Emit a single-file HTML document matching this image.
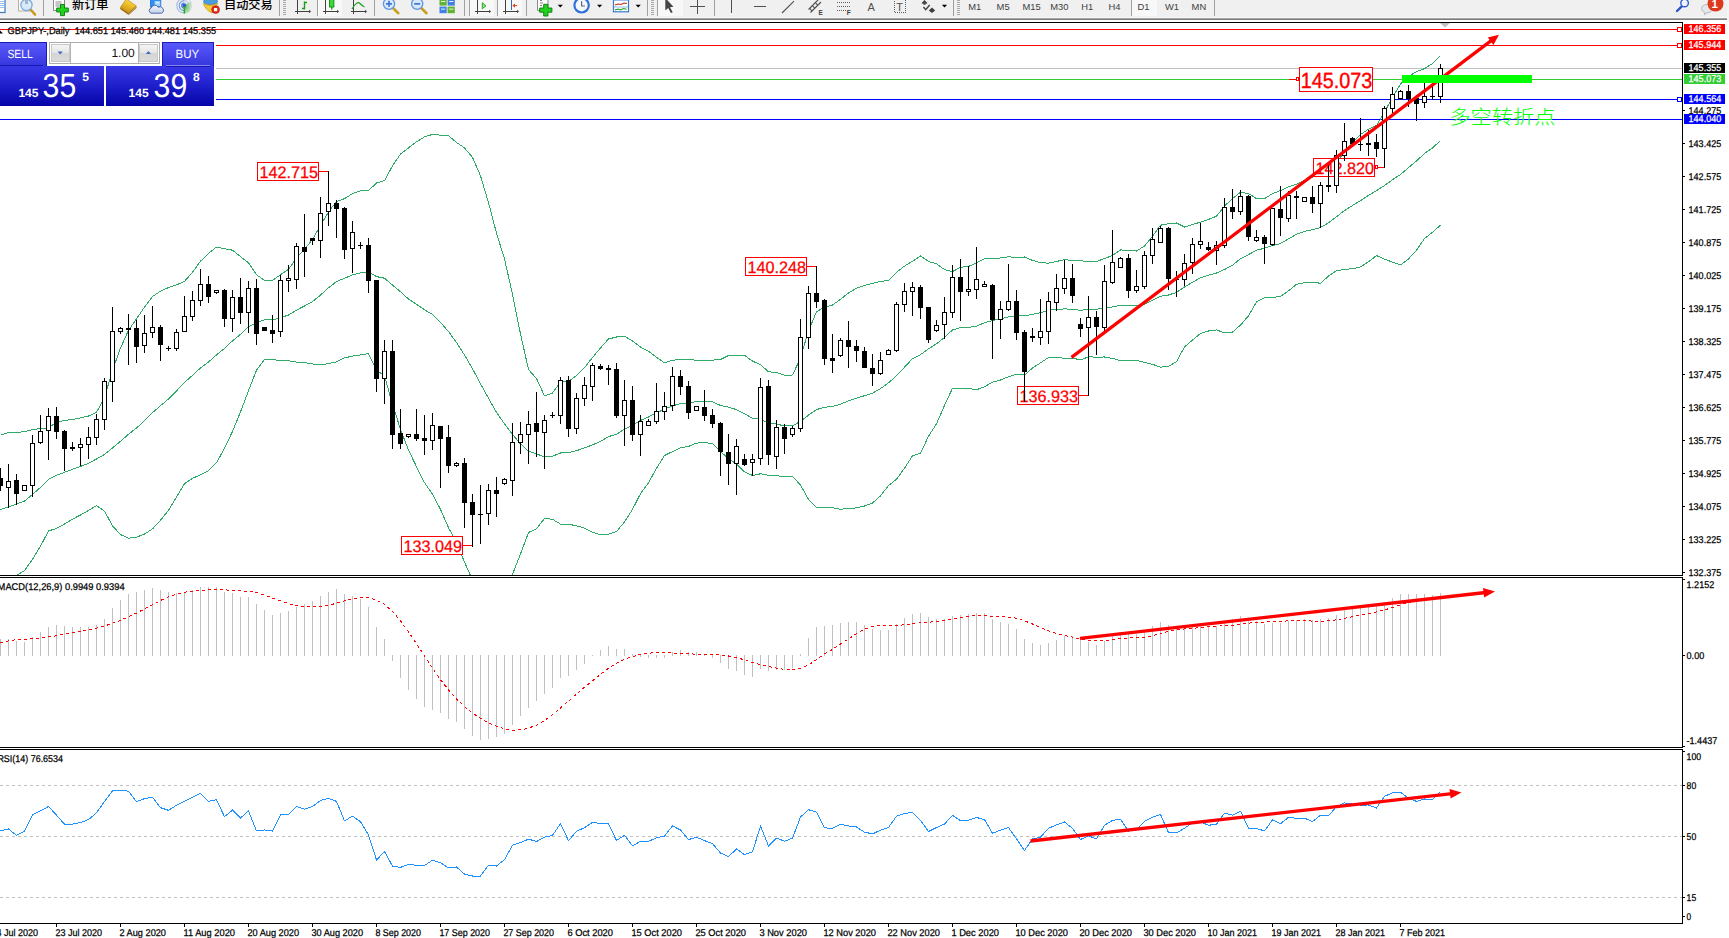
<!DOCTYPE html>
<html lang="zh"><head><meta charset="utf-8"><title>GBPJPY-,Daily</title>
<style>
html,body{margin:0;padding:0;background:#fff;}
body{width:1729px;height:938px;overflow:hidden;position:relative;font-family:"Liberation Sans","Noto Sans CJK SC",sans-serif;}
svg{position:absolute;left:0;top:0;display:block}
text{font-family:"Liberation Sans","Noto Sans CJK SC",sans-serif;}
.ax{font-size:9.3px;fill:#000}
.axw{font-size:9.3px;fill:#fff}
.lbl{font-size:16px;fill:#f00}
</style></head><body>
<svg width="1729" height="938" viewBox="0 0 1729 938">

<defs>
<clipPath id="cm"><rect x="0" y="23" width="1682" height="552"/></clipPath>
<clipPath id="cd"><rect x="0" y="578" width="1682" height="169"/></clipPath>
<clipPath id="cr"><rect x="0" y="750" width="1682" height="173"/></clipPath>
</defs>
<g shape-rendering="crispEdges">
<rect x="0" y="29" width="1682" height="1" fill="#f00" />
<rect x="0" y="45" width="1682" height="1" fill="#f00" />
<rect x="0" y="68" width="1682" height="1" fill="#c0c0c0" />
<rect x="0" y="79" width="1682" height="1" fill="#32cd32" />
<rect x="0" y="99" width="1682" height="1" fill="#00f" />
<rect x="0" y="119" width="1682" height="1" fill="#00f" />
</g>
<g clip-path="url(#cm)">
<polyline points="0.5,435.1 8.5,432.5 16.5,432.5 24.5,431.6 32.5,429.7 40.5,428.4 48.5,427.8 56.5,422.3 64.5,420.5 72.5,419.5 80.5,417.9 88.5,416.0 96.5,412.3 104.5,397.6 112.5,370.1 120.5,348.0 128.5,330.3 136.5,318.9 144.5,307.1 152.5,296.5 160.5,291.1 168.5,287.6 176.5,284.9 184.5,281.3 192.5,272.3 200.5,261.2 208.5,253.4 216.5,247.1 224.5,248.7 232.5,250.2 240.5,256.6 248.5,262.9 256.5,274.7 264.5,280.4 272.5,280.4 280.5,274.8 288.5,269.4 296.5,258.0 304.5,249.3 312.5,239.4 320.5,225.3 328.5,212.0 336.5,201.4 344.5,198.7 352.5,193.6 360.5,190.9 368.5,190.7 376.5,182.9 384.5,180.6 392.5,165.9 400.5,154.0 408.5,147.9 416.5,141.8 424.5,136.9 432.5,134.4 440.5,135.2 448.5,135.6 456.5,142.5 464.5,147.9 472.5,157.4 480.5,175.8 488.5,202.6 496.5,233.2 504.5,258.9 512.5,294.5 520.5,333.9 528.5,369.6 536.5,378.5 544.5,395.9 552.5,393.0 560.5,381.9 568.5,381.3 576.5,375.6 584.5,367.7 592.5,357.5 600.5,348.0 608.5,339.0 616.5,337.0 624.5,336.2 632.5,340.9 640.5,347.1 648.5,351.1 656.5,357.3 664.5,362.9 672.5,360.3 680.5,359.2 688.5,359.5 696.5,360.3 704.5,360.4 712.5,360.1 720.5,359.5 728.5,355.5 736.5,355.3 744.5,355.3 752.5,361.1 760.5,364.6 768.5,371.8 776.5,372.4 784.5,375.1 792.5,375.0 800.5,358.0 808.5,330.7 816.5,311.9 824.5,307.1 832.5,305.1 840.5,299.2 848.5,293.1 856.5,288.2 864.5,285.4 872.5,283.3 880.5,281.4 888.5,280.4 896.5,272.4 904.5,266.1 912.5,261.3 920.5,255.9 928.5,261.5 936.5,263.8 944.5,269.6 952.5,271.6 960.5,267.2 968.5,266.5 976.5,262.8 984.5,258.6 992.5,259.0 1000.5,258.0 1008.5,256.8 1016.5,257.5 1024.5,257.0 1032.5,260.4 1040.5,262.6 1048.5,263.2 1056.5,261.5 1064.5,259.6 1072.5,260.6 1080.5,260.8 1088.5,261.5 1096.5,261.5 1104.5,258.5 1112.5,255.5 1120.5,250.0 1128.5,250.1 1136.5,251.0 1144.5,246.0 1152.5,236.2 1160.5,225.2 1168.5,223.7 1176.5,223.0 1184.5,227.0 1192.5,224.5 1200.5,222.1 1208.5,219.4 1216.5,216.2 1224.5,206.1 1232.5,198.5 1240.5,192.3 1248.5,193.5 1256.5,198.6 1264.5,198.7 1272.5,193.6 1280.5,190.6 1288.5,186.7 1296.5,184.4 1304.5,180.1 1312.5,177.2 1320.5,171.7 1328.5,169.7 1336.5,162.6 1344.5,151.8 1352.5,142.2 1360.5,134.5 1368.5,129.1 1376.5,125.6 1384.5,112.1 1392.5,97.3 1400.5,84.0 1408.5,76.3 1416.5,71.6 1424.5,68.6 1432.5,63.5 1440.5,55.8" fill="none" stroke="#2fa968" stroke-width="1" shape-rendering="crispEdges"/>
<polyline points="0.5,509.6 8.5,506.9 16.5,504.0 24.5,501.1 32.5,494.5 40.5,487.3 48.5,479.4 56.5,475.3 64.5,472.3 72.5,469.3 80.5,466.4 88.5,463.3 96.5,459.0 104.5,454.4 112.5,448.0 120.5,441.3 128.5,434.2 136.5,428.1 144.5,420.6 152.5,412.7 160.5,405.7 168.5,399.0 176.5,390.9 184.5,382.5 192.5,375.3 200.5,368.0 208.5,362.0 216.5,354.9 224.5,348.4 232.5,340.9 240.5,334.3 248.5,326.8 256.5,322.5 264.5,319.9 272.5,320.0 280.5,317.6 288.5,315.1 296.5,310.1 304.5,306.0 312.5,301.6 320.5,295.1 328.5,287.8 336.5,281.6 344.5,278.3 352.5,274.9 360.5,272.9 368.5,272.1 376.5,276.6 384.5,278.2 392.5,285.1 400.5,291.7 408.5,299.0 416.5,304.2 424.5,309.8 432.5,314.4 440.5,322.3 448.5,331.6 456.5,342.5 464.5,355.0 472.5,368.7 480.5,383.8 488.5,398.2 496.5,412.4 504.5,423.9 512.5,434.4 520.5,443.9 528.5,451.1 536.5,453.7 544.5,457.1 552.5,456.2 560.5,453.0 568.5,452.7 576.5,450.7 584.5,447.9 592.5,444.9 600.5,441.4 608.5,436.6 616.5,434.2 624.5,429.1 632.5,425.1 640.5,420.4 648.5,417.0 656.5,412.8 664.5,409.2 672.5,405.9 680.5,403.5 688.5,402.9 696.5,401.7 704.5,401.5 712.5,401.9 720.5,405.4 728.5,407.2 736.5,409.6 744.5,413.6 752.5,418.3 760.5,419.2 768.5,423.5 776.5,424.0 784.5,426.0 792.5,425.7 800.5,421.5 808.5,415.1 816.5,409.6 824.5,407.3 832.5,406.5 840.5,404.2 848.5,400.9 856.5,398.1 864.5,395.7 872.5,393.2 880.5,388.6 888.5,382.9 896.5,375.8 904.5,367.2 912.5,358.6 920.5,354.6 928.5,348.9 936.5,343.8 944.5,337.5 952.5,329.9 960.5,327.6 968.5,327.4 976.5,326.3 984.5,322.6 992.5,320.6 1000.5,319.0 1008.5,316.8 1016.5,315.9 1024.5,316.0 1032.5,314.2 1040.5,312.8 1048.5,310.3 1056.5,309.5 1064.5,308.9 1072.5,309.3 1080.5,310.4 1088.5,309.2 1096.5,309.3 1104.5,307.7 1112.5,307.0 1120.5,305.3 1128.5,305.3 1136.5,305.7 1144.5,304.3 1152.5,300.2 1160.5,296.2 1168.5,295.0 1176.5,292.4 1184.5,287.0 1192.5,282.3 1200.5,277.8 1208.5,275.2 1216.5,273.0 1224.5,269.5 1232.5,265.3 1240.5,258.7 1248.5,254.6 1256.5,250.2 1264.5,248.3 1272.5,245.6 1280.5,243.5 1288.5,238.8 1296.5,234.3 1304.5,231.4 1312.5,229.6 1320.5,227.5 1328.5,222.9 1336.5,216.7 1344.5,210.6 1352.5,205.5 1360.5,200.7 1368.5,195.4 1376.5,190.6 1384.5,185.6 1392.5,179.7 1400.5,174.5 1408.5,167.6 1416.5,160.9 1424.5,153.5 1432.5,147.9 1440.5,140.5" fill="none" stroke="#2fa968" stroke-width="1" shape-rendering="crispEdges"/>
<polyline points="0.5,584.1 8.5,581.3 16.5,575.5 24.5,570.5 32.5,559.3 40.5,546.2 48.5,531.0 56.5,528.4 64.5,524.1 72.5,519.1 80.5,515.0 88.5,510.5 96.5,505.6 104.5,511.1 112.5,525.9 120.5,534.5 128.5,538.2 136.5,537.2 144.5,534.1 152.5,528.9 160.5,520.2 168.5,510.4 176.5,496.9 184.5,483.7 192.5,478.4 200.5,474.8 208.5,470.6 216.5,462.8 224.5,448.2 232.5,431.5 240.5,411.9 248.5,390.7 256.5,370.2 264.5,359.4 272.5,359.6 280.5,360.5 288.5,360.7 296.5,362.1 304.5,362.6 312.5,363.9 320.5,364.9 328.5,363.6 336.5,361.9 344.5,357.9 352.5,356.1 360.5,355.0 368.5,353.6 376.5,370.3 384.5,375.9 392.5,404.3 400.5,429.3 408.5,450.1 416.5,466.7 424.5,482.6 432.5,494.3 440.5,509.4 448.5,527.7 456.5,542.5 464.5,562.2 472.5,580.1 480.5,591.8 488.5,593.7 496.5,591.7 504.5,588.9 512.5,574.3 520.5,553.8 528.5,532.5 536.5,528.9 544.5,518.4 552.5,519.3 560.5,524.1 568.5,524.2 576.5,525.8 584.5,528.1 592.5,532.3 600.5,534.9 608.5,534.3 616.5,531.5 624.5,522.0 632.5,509.3 640.5,493.7 648.5,482.8 656.5,468.3 664.5,455.5 672.5,451.6 680.5,447.8 688.5,446.4 696.5,443.1 704.5,442.5 712.5,443.6 720.5,451.4 728.5,458.9 736.5,464.0 744.5,471.9 752.5,475.5 760.5,473.8 768.5,475.2 776.5,475.7 784.5,476.8 792.5,476.4 800.5,485.0 808.5,499.5 816.5,507.4 824.5,507.4 832.5,507.8 840.5,509.2 848.5,508.6 856.5,507.9 864.5,506.0 872.5,503.0 880.5,495.9 888.5,485.5 896.5,479.3 904.5,468.2 912.5,455.9 920.5,453.3 928.5,436.2 936.5,423.8 944.5,405.4 952.5,388.3 960.5,388.1 968.5,388.4 976.5,389.8 984.5,386.7 992.5,382.1 1000.5,380.0 1008.5,376.7 1016.5,374.3 1024.5,375.1 1032.5,368.0 1040.5,362.9 1048.5,357.5 1056.5,357.6 1064.5,358.2 1072.5,358.1 1080.5,359.9 1088.5,356.9 1096.5,357.1 1104.5,357.0 1112.5,358.4 1120.5,360.6 1128.5,360.6 1136.5,360.4 1144.5,362.5 1152.5,364.3 1160.5,367.2 1168.5,366.3 1176.5,361.7 1184.5,346.9 1192.5,340.1 1200.5,333.5 1208.5,331.0 1216.5,329.9 1224.5,332.9 1232.5,332.1 1240.5,325.1 1248.5,315.8 1256.5,301.8 1264.5,297.9 1272.5,297.5 1280.5,296.5 1288.5,290.8 1296.5,284.3 1304.5,282.7 1312.5,282.1 1320.5,283.3 1328.5,276.1 1336.5,270.8 1344.5,269.3 1352.5,268.8 1360.5,266.9 1368.5,261.8 1376.5,255.6 1384.5,259.1 1392.5,262.2 1400.5,264.9 1408.5,258.9 1416.5,250.2 1424.5,238.5 1432.5,232.3 1440.5,225.1" fill="none" stroke="#2fa968" stroke-width="1" shape-rendering="crispEdges"/>
</g>
<g shape-rendering="crispEdges">
</g>
<rect x="257.5" y="162.5" width="61" height="18" fill="#fff" stroke="#f00" stroke-width="1" shape-rendering="crispEdges"/>
<text x="259.45" y="178" font-size="16.6" fill="#f00" stroke="#f00" stroke-width="0.25" text-rendering="geometricPrecision" textLength="58.7" lengthAdjust="spacingAndGlyphs">142.715</text>
<rect x="745.5" y="257.5" width="61" height="18" fill="#fff" stroke="#f00" stroke-width="1" shape-rendering="crispEdges"/>
<text x="747.45" y="273" font-size="16.6" fill="#f00" stroke="#f00" stroke-width="0.25" text-rendering="geometricPrecision" textLength="58.7" lengthAdjust="spacingAndGlyphs">140.248</text>
<rect x="401.5" y="536.5" width="61" height="18" fill="#fff" stroke="#f00" stroke-width="1" shape-rendering="crispEdges"/>
<text x="403.45" y="552" font-size="16.6" fill="#f00" stroke="#f00" stroke-width="0.25" text-rendering="geometricPrecision" textLength="58.7" lengthAdjust="spacingAndGlyphs">133.049</text>
<rect x="1017.5" y="386.5" width="61" height="18" fill="#fff" stroke="#f00" stroke-width="1" shape-rendering="crispEdges"/>
<text x="1019.45" y="402" font-size="16.6" fill="#f00" stroke="#f00" stroke-width="0.25" text-rendering="geometricPrecision" textLength="58.7" lengthAdjust="spacingAndGlyphs">136.933</text>
<rect x="1313.5" y="158.5" width="61" height="18" fill="#fff" stroke="#f00" stroke-width="1" shape-rendering="crispEdges"/>
<text x="1315.45" y="174" font-size="16.6" fill="#f00" stroke="#f00" stroke-width="0.25" text-rendering="geometricPrecision" textLength="58.7" lengthAdjust="spacingAndGlyphs">142.820</text>
<rect x="1299.5" y="67.5" width="73" height="24" fill="#fff" stroke="#f00" stroke-width="1" shape-rendering="crispEdges"/>
<text x="1300.7" y="88" font-size="22" fill="#f00" stroke="#f00" stroke-width="0.4" text-rendering="geometricPrecision" textLength="71.6" lengthAdjust="spacingAndGlyphs">145.073</text>
<g shape-rendering="crispEdges">
<rect x="319" y="171" width="9" height="1" fill="#f00"/>
<rect x="328" y="171" width="1" height="20" fill="#000"/>
<rect x="807" y="266" width="9" height="1" fill="#f00"/>
<rect x="816" y="266" width="1" height="28" fill="#000"/>
<rect x="463" y="545" width="9" height="1" fill="#f00"/>
<rect x="1079" y="395" width="9" height="1" fill="#f00"/>
<rect x="1375" y="167" width="9" height="1" fill="#f00"/>
<rect x="1289" y="79" width="10" height="1" fill="#f00"/>
<rect x="1296.5" y="77.5" width="2" height="3" fill="#fff" stroke="#f00"/>
<rect x="1375.5" y="165.5" width="2" height="3" fill="#fff" stroke="#f00"/>
</g>
<g clip-path="url(#cm)"><g shape-rendering="crispEdges">
<rect x="0" y="468" width="1" height="23" fill="#000"/>
<rect x="-2" y="478" width="5" height="8" fill="#000"/>
<rect x="8" y="464" width="1" height="44" fill="#000"/>
<rect x="6" y="481" width="5" height="7" fill="#000"/>
<rect x="7" y="482" width="3" height="5" fill="#fff"/>
<rect x="16" y="474" width="1" height="31" fill="#000"/>
<rect x="14" y="480" width="5" height="14" fill="#000"/>
<rect x="24" y="485" width="1" height="6" fill="#000"/>
<rect x="22" y="485" width="5" height="6" fill="#000"/>
<rect x="23" y="486" width="3" height="4" fill="#fff"/>
<rect x="32" y="435" width="1" height="62" fill="#000"/>
<rect x="30" y="443" width="5" height="43" fill="#000"/>
<rect x="31" y="444" width="3" height="41" fill="#fff"/>
<rect x="40" y="415" width="1" height="29" fill="#000"/>
<rect x="38" y="431" width="5" height="12" fill="#000"/>
<rect x="39" y="432" width="3" height="10" fill="#fff"/>
<rect x="48" y="408" width="1" height="52" fill="#000"/>
<rect x="46" y="416" width="5" height="15" fill="#000"/>
<rect x="47" y="417" width="3" height="13" fill="#fff"/>
<rect x="56" y="407" width="1" height="32" fill="#000"/>
<rect x="54" y="416" width="5" height="16" fill="#000"/>
<rect x="64" y="430" width="1" height="41" fill="#000"/>
<rect x="62" y="431" width="5" height="18" fill="#000"/>
<rect x="72" y="442" width="1" height="9" fill="#000"/>
<rect x="70" y="447" width="5" height="2" fill="#000"/>
<rect x="80" y="438" width="1" height="28" fill="#000"/>
<rect x="78" y="444" width="5" height="4" fill="#000"/>
<rect x="79" y="445" width="3" height="2" fill="#fff"/>
<rect x="88" y="427" width="1" height="32" fill="#000"/>
<rect x="86" y="437" width="5" height="8" fill="#000"/>
<rect x="87" y="438" width="3" height="6" fill="#fff"/>
<rect x="96" y="414" width="1" height="31" fill="#000"/>
<rect x="94" y="419" width="5" height="19" fill="#000"/>
<rect x="95" y="420" width="3" height="17" fill="#fff"/>
<rect x="104" y="378" width="1" height="52" fill="#000"/>
<rect x="102" y="381" width="5" height="39" fill="#000"/>
<rect x="103" y="382" width="3" height="37" fill="#fff"/>
<rect x="112" y="307" width="1" height="95" fill="#000"/>
<rect x="110" y="331" width="5" height="51" fill="#000"/>
<rect x="111" y="332" width="3" height="49" fill="#fff"/>
<rect x="120" y="327" width="1" height="7" fill="#000"/>
<rect x="118" y="328" width="5" height="4" fill="#000"/>
<rect x="119" y="329" width="3" height="2" fill="#fff"/>
<rect x="128" y="314" width="1" height="51" fill="#000"/>
<rect x="126" y="328" width="5" height="2" fill="#000"/>
<rect x="136" y="320" width="1" height="43" fill="#000"/>
<rect x="134" y="328" width="5" height="19" fill="#000"/>
<rect x="144" y="315" width="1" height="38" fill="#000"/>
<rect x="142" y="333" width="5" height="13" fill="#000"/>
<rect x="143" y="334" width="3" height="11" fill="#fff"/>
<rect x="152" y="306" width="1" height="32" fill="#000"/>
<rect x="150" y="327" width="5" height="6" fill="#000"/>
<rect x="151" y="328" width="3" height="4" fill="#fff"/>
<rect x="160" y="325" width="1" height="36" fill="#000"/>
<rect x="158" y="327" width="5" height="18" fill="#000"/>
<rect x="168" y="346" width="1" height="5" fill="#000"/>
<rect x="166" y="348" width="5" height="1" fill="#000"/>
<rect x="176" y="329" width="1" height="22" fill="#000"/>
<rect x="174" y="332" width="5" height="17" fill="#000"/>
<rect x="175" y="333" width="3" height="15" fill="#fff"/>
<rect x="184" y="296" width="1" height="36" fill="#000"/>
<rect x="182" y="316" width="5" height="16" fill="#000"/>
<rect x="183" y="317" width="3" height="14" fill="#fff"/>
<rect x="192" y="291" width="1" height="30" fill="#000"/>
<rect x="190" y="300" width="5" height="17" fill="#000"/>
<rect x="191" y="301" width="3" height="15" fill="#fff"/>
<rect x="200" y="269" width="1" height="37" fill="#000"/>
<rect x="198" y="284" width="5" height="17" fill="#000"/>
<rect x="199" y="285" width="3" height="15" fill="#fff"/>
<rect x="208" y="276" width="1" height="27" fill="#000"/>
<rect x="206" y="284" width="5" height="13" fill="#000"/>
<rect x="216" y="290" width="1" height="4" fill="#000"/>
<rect x="214" y="290" width="5" height="3" fill="#000"/>
<rect x="215" y="291" width="3" height="1" fill="#fff"/>
<rect x="224" y="289" width="1" height="38" fill="#000"/>
<rect x="222" y="290" width="5" height="29" fill="#000"/>
<rect x="232" y="290" width="1" height="42" fill="#000"/>
<rect x="230" y="297" width="5" height="22" fill="#000"/>
<rect x="231" y="298" width="3" height="20" fill="#fff"/>
<rect x="240" y="278" width="1" height="46" fill="#000"/>
<rect x="238" y="297" width="5" height="16" fill="#000"/>
<rect x="248" y="281" width="1" height="52" fill="#000"/>
<rect x="246" y="288" width="5" height="25" fill="#000"/>
<rect x="247" y="289" width="3" height="23" fill="#fff"/>
<rect x="256" y="279" width="1" height="66" fill="#000"/>
<rect x="254" y="288" width="5" height="46" fill="#000"/>
<rect x="264" y="327" width="1" height="4" fill="#000"/>
<rect x="262" y="327" width="5" height="4" fill="#000"/>
<rect x="272" y="315" width="1" height="28" fill="#000"/>
<rect x="270" y="330" width="5" height="4" fill="#000"/>
<rect x="280" y="275" width="1" height="62" fill="#000"/>
<rect x="278" y="280" width="5" height="52" fill="#000"/>
<rect x="279" y="281" width="3" height="50" fill="#fff"/>
<rect x="288" y="265" width="1" height="27" fill="#000"/>
<rect x="286" y="278" width="5" height="3" fill="#000"/>
<rect x="287" y="279" width="3" height="1" fill="#fff"/>
<rect x="296" y="243" width="1" height="46" fill="#000"/>
<rect x="294" y="246" width="5" height="34" fill="#000"/>
<rect x="295" y="247" width="3" height="32" fill="#fff"/>
<rect x="304" y="214" width="1" height="63" fill="#000"/>
<rect x="302" y="247" width="5" height="5" fill="#000"/>
<rect x="312" y="238" width="1" height="7" fill="#000"/>
<rect x="310" y="238" width="5" height="3" fill="#000"/>
<rect x="320" y="197" width="1" height="61" fill="#000"/>
<rect x="318" y="213" width="5" height="28" fill="#000"/>
<rect x="319" y="214" width="3" height="26" fill="#fff"/>
<rect x="328" y="171" width="1" height="55" fill="#000"/>
<rect x="326" y="203" width="5" height="9" fill="#000"/>
<rect x="327" y="204" width="3" height="7" fill="#fff"/>
<rect x="336" y="200" width="1" height="38" fill="#000"/>
<rect x="334" y="203" width="5" height="6" fill="#000"/>
<rect x="344" y="207" width="1" height="52" fill="#000"/>
<rect x="342" y="208" width="5" height="42" fill="#000"/>
<rect x="352" y="221" width="1" height="52" fill="#000"/>
<rect x="350" y="232" width="5" height="17" fill="#000"/>
<rect x="351" y="233" width="3" height="15" fill="#fff"/>
<rect x="360" y="242" width="1" height="7" fill="#000"/>
<rect x="358" y="245" width="5" height="1" fill="#000"/>
<rect x="368" y="238" width="1" height="55" fill="#000"/>
<rect x="366" y="245" width="5" height="36" fill="#000"/>
<rect x="376" y="280" width="1" height="112" fill="#000"/>
<rect x="374" y="280" width="5" height="99" fill="#000"/>
<rect x="384" y="340" width="1" height="64" fill="#000"/>
<rect x="382" y="351" width="5" height="28" fill="#000"/>
<rect x="383" y="352" width="3" height="26" fill="#fff"/>
<rect x="392" y="340" width="1" height="109" fill="#000"/>
<rect x="390" y="351" width="5" height="84" fill="#000"/>
<rect x="400" y="409" width="1" height="40" fill="#000"/>
<rect x="398" y="433" width="5" height="11" fill="#000"/>
<rect x="408" y="434" width="1" height="4" fill="#000"/>
<rect x="406" y="434" width="5" height="3" fill="#000"/>
<rect x="407" y="435" width="3" height="1" fill="#fff"/>
<rect x="416" y="409" width="1" height="32" fill="#000"/>
<rect x="414" y="434" width="5" height="5" fill="#000"/>
<rect x="424" y="415" width="1" height="40" fill="#000"/>
<rect x="422" y="438" width="5" height="3" fill="#000"/>
<rect x="432" y="413" width="1" height="37" fill="#000"/>
<rect x="430" y="425" width="5" height="16" fill="#000"/>
<rect x="431" y="426" width="3" height="14" fill="#fff"/>
<rect x="440" y="426" width="1" height="62" fill="#000"/>
<rect x="438" y="426" width="5" height="13" fill="#000"/>
<rect x="448" y="425" width="1" height="48" fill="#000"/>
<rect x="446" y="437" width="5" height="29" fill="#000"/>
<rect x="456" y="462" width="1" height="5" fill="#000"/>
<rect x="454" y="463" width="5" height="3" fill="#000"/>
<rect x="455" y="464" width="3" height="1" fill="#fff"/>
<rect x="464" y="458" width="1" height="70" fill="#000"/>
<rect x="462" y="463" width="5" height="40" fill="#000"/>
<rect x="472" y="494" width="1" height="53" fill="#000"/>
<rect x="470" y="502" width="5" height="13" fill="#000"/>
<rect x="480" y="485" width="1" height="59" fill="#000"/>
<rect x="478" y="514" width="5" height="1" fill="#000"/>
<rect x="488" y="484" width="1" height="41" fill="#000"/>
<rect x="486" y="490" width="5" height="24" fill="#000"/>
<rect x="487" y="491" width="3" height="22" fill="#fff"/>
<rect x="496" y="477" width="1" height="40" fill="#000"/>
<rect x="494" y="490" width="5" height="4" fill="#000"/>
<rect x="504" y="478" width="1" height="7" fill="#000"/>
<rect x="502" y="479" width="5" height="5" fill="#000"/>
<rect x="503" y="480" width="3" height="3" fill="#fff"/>
<rect x="512" y="423" width="1" height="73" fill="#000"/>
<rect x="510" y="442" width="5" height="39" fill="#000"/>
<rect x="511" y="443" width="3" height="37" fill="#fff"/>
<rect x="520" y="422" width="1" height="32" fill="#000"/>
<rect x="518" y="434" width="5" height="9" fill="#000"/>
<rect x="519" y="435" width="3" height="7" fill="#fff"/>
<rect x="528" y="411" width="1" height="53" fill="#000"/>
<rect x="526" y="424" width="5" height="11" fill="#000"/>
<rect x="527" y="425" width="3" height="9" fill="#fff"/>
<rect x="536" y="392" width="1" height="65" fill="#000"/>
<rect x="534" y="423" width="5" height="9" fill="#000"/>
<rect x="544" y="415" width="1" height="54" fill="#000"/>
<rect x="542" y="420" width="5" height="13" fill="#000"/>
<rect x="543" y="421" width="3" height="11" fill="#fff"/>
<rect x="552" y="412" width="1" height="6" fill="#000"/>
<rect x="550" y="415" width="5" height="1" fill="#000"/>
<rect x="560" y="377" width="1" height="47" fill="#000"/>
<rect x="558" y="380" width="5" height="36" fill="#000"/>
<rect x="559" y="381" width="3" height="34" fill="#fff"/>
<rect x="568" y="376" width="1" height="61" fill="#000"/>
<rect x="566" y="380" width="5" height="49" fill="#000"/>
<rect x="576" y="393" width="1" height="41" fill="#000"/>
<rect x="574" y="398" width="5" height="31" fill="#000"/>
<rect x="575" y="399" width="3" height="29" fill="#fff"/>
<rect x="584" y="377" width="1" height="29" fill="#000"/>
<rect x="582" y="385" width="5" height="14" fill="#000"/>
<rect x="583" y="386" width="3" height="12" fill="#fff"/>
<rect x="592" y="363" width="1" height="38" fill="#000"/>
<rect x="590" y="365" width="5" height="22" fill="#000"/>
<rect x="591" y="366" width="3" height="20" fill="#fff"/>
<rect x="600" y="364" width="1" height="6" fill="#000"/>
<rect x="598" y="366" width="5" height="3" fill="#000"/>
<rect x="608" y="365" width="1" height="20" fill="#000"/>
<rect x="606" y="368" width="5" height="2" fill="#000"/>
<rect x="616" y="363" width="1" height="55" fill="#000"/>
<rect x="614" y="369" width="5" height="47" fill="#000"/>
<rect x="624" y="380" width="1" height="66" fill="#000"/>
<rect x="622" y="400" width="5" height="16" fill="#000"/>
<rect x="623" y="401" width="3" height="14" fill="#fff"/>
<rect x="632" y="386" width="1" height="55" fill="#000"/>
<rect x="630" y="400" width="5" height="35" fill="#000"/>
<rect x="640" y="415" width="1" height="41" fill="#000"/>
<rect x="638" y="421" width="5" height="14" fill="#000"/>
<rect x="639" y="422" width="3" height="12" fill="#fff"/>
<rect x="648" y="419" width="1" height="7" fill="#000"/>
<rect x="646" y="421" width="5" height="5" fill="#000"/>
<rect x="647" y="422" width="3" height="3" fill="#fff"/>
<rect x="656" y="383" width="1" height="41" fill="#000"/>
<rect x="654" y="411" width="5" height="11" fill="#000"/>
<rect x="655" y="412" width="3" height="9" fill="#fff"/>
<rect x="664" y="392" width="1" height="28" fill="#000"/>
<rect x="662" y="406" width="5" height="6" fill="#000"/>
<rect x="663" y="407" width="3" height="4" fill="#fff"/>
<rect x="672" y="367" width="1" height="44" fill="#000"/>
<rect x="670" y="376" width="5" height="30" fill="#000"/>
<rect x="671" y="377" width="3" height="28" fill="#fff"/>
<rect x="680" y="370" width="1" height="25" fill="#000"/>
<rect x="678" y="376" width="5" height="11" fill="#000"/>
<rect x="688" y="381" width="1" height="38" fill="#000"/>
<rect x="686" y="386" width="5" height="27" fill="#000"/>
<rect x="696" y="406" width="1" height="5" fill="#000"/>
<rect x="694" y="406" width="5" height="5" fill="#000"/>
<rect x="695" y="407" width="3" height="3" fill="#fff"/>
<rect x="704" y="390" width="1" height="31" fill="#000"/>
<rect x="702" y="407" width="5" height="9" fill="#000"/>
<rect x="712" y="409" width="1" height="19" fill="#000"/>
<rect x="710" y="415" width="5" height="9" fill="#000"/>
<rect x="720" y="422" width="1" height="54" fill="#000"/>
<rect x="718" y="423" width="5" height="29" fill="#000"/>
<rect x="728" y="434" width="1" height="51" fill="#000"/>
<rect x="726" y="452" width="5" height="12" fill="#000"/>
<rect x="736" y="439" width="1" height="56" fill="#000"/>
<rect x="734" y="446" width="5" height="18" fill="#000"/>
<rect x="735" y="447" width="3" height="16" fill="#fff"/>
<rect x="744" y="454" width="1" height="12" fill="#000"/>
<rect x="742" y="459" width="5" height="6" fill="#000"/>
<rect x="752" y="454" width="1" height="22" fill="#000"/>
<rect x="750" y="459" width="5" height="4" fill="#000"/>
<rect x="751" y="460" width="3" height="2" fill="#fff"/>
<rect x="760" y="378" width="1" height="87" fill="#000"/>
<rect x="758" y="387" width="5" height="72" fill="#000"/>
<rect x="759" y="388" width="3" height="70" fill="#fff"/>
<rect x="768" y="380" width="1" height="85" fill="#000"/>
<rect x="766" y="386" width="5" height="69" fill="#000"/>
<rect x="776" y="420" width="1" height="49" fill="#000"/>
<rect x="774" y="427" width="5" height="30" fill="#000"/>
<rect x="775" y="428" width="3" height="28" fill="#fff"/>
<rect x="784" y="424" width="1" height="30" fill="#000"/>
<rect x="782" y="427" width="5" height="12" fill="#000"/>
<rect x="792" y="426" width="1" height="11" fill="#000"/>
<rect x="790" y="428" width="5" height="7" fill="#000"/>
<rect x="791" y="429" width="3" height="5" fill="#fff"/>
<rect x="800" y="319" width="1" height="113" fill="#000"/>
<rect x="798" y="337" width="5" height="92" fill="#000"/>
<rect x="799" y="338" width="3" height="90" fill="#fff"/>
<rect x="808" y="286" width="1" height="63" fill="#000"/>
<rect x="806" y="293" width="5" height="45" fill="#000"/>
<rect x="807" y="294" width="3" height="43" fill="#fff"/>
<rect x="816" y="266" width="1" height="42" fill="#000"/>
<rect x="814" y="293" width="5" height="9" fill="#000"/>
<rect x="824" y="299" width="1" height="66" fill="#000"/>
<rect x="822" y="300" width="5" height="59" fill="#000"/>
<rect x="832" y="334" width="1" height="39" fill="#000"/>
<rect x="830" y="358" width="5" height="3" fill="#000"/>
<rect x="840" y="338" width="1" height="19" fill="#000"/>
<rect x="838" y="340" width="5" height="16" fill="#000"/>
<rect x="839" y="341" width="3" height="14" fill="#fff"/>
<rect x="848" y="321" width="1" height="47" fill="#000"/>
<rect x="846" y="340" width="5" height="7" fill="#000"/>
<rect x="856" y="340" width="1" height="22" fill="#000"/>
<rect x="854" y="346" width="5" height="5" fill="#000"/>
<rect x="864" y="347" width="1" height="21" fill="#000"/>
<rect x="862" y="351" width="5" height="17" fill="#000"/>
<rect x="872" y="354" width="1" height="32" fill="#000"/>
<rect x="870" y="368" width="5" height="6" fill="#000"/>
<rect x="880" y="352" width="1" height="23" fill="#000"/>
<rect x="878" y="360" width="5" height="14" fill="#000"/>
<rect x="879" y="361" width="3" height="12" fill="#fff"/>
<rect x="888" y="349" width="1" height="6" fill="#000"/>
<rect x="886" y="350" width="5" height="5" fill="#000"/>
<rect x="887" y="351" width="3" height="3" fill="#fff"/>
<rect x="896" y="302" width="1" height="50" fill="#000"/>
<rect x="894" y="304" width="5" height="47" fill="#000"/>
<rect x="895" y="305" width="3" height="45" fill="#fff"/>
<rect x="904" y="283" width="1" height="29" fill="#000"/>
<rect x="902" y="291" width="5" height="14" fill="#000"/>
<rect x="903" y="292" width="3" height="12" fill="#fff"/>
<rect x="912" y="282" width="1" height="34" fill="#000"/>
<rect x="910" y="287" width="5" height="5" fill="#000"/>
<rect x="911" y="288" width="3" height="3" fill="#fff"/>
<rect x="920" y="285" width="1" height="34" fill="#000"/>
<rect x="918" y="287" width="5" height="21" fill="#000"/>
<rect x="928" y="307" width="1" height="36" fill="#000"/>
<rect x="926" y="307" width="5" height="33" fill="#000"/>
<rect x="936" y="320" width="1" height="12" fill="#000"/>
<rect x="934" y="325" width="5" height="6" fill="#000"/>
<rect x="935" y="326" width="3" height="4" fill="#fff"/>
<rect x="944" y="297" width="1" height="42" fill="#000"/>
<rect x="942" y="312" width="5" height="13" fill="#000"/>
<rect x="943" y="313" width="3" height="11" fill="#fff"/>
<rect x="952" y="265" width="1" height="53" fill="#000"/>
<rect x="950" y="277" width="5" height="36" fill="#000"/>
<rect x="951" y="278" width="3" height="34" fill="#fff"/>
<rect x="960" y="259" width="1" height="62" fill="#000"/>
<rect x="958" y="277" width="5" height="15" fill="#000"/>
<rect x="968" y="266" width="1" height="30" fill="#000"/>
<rect x="966" y="289" width="5" height="3" fill="#000"/>
<rect x="967" y="290" width="3" height="1" fill="#fff"/>
<rect x="976" y="247" width="1" height="52" fill="#000"/>
<rect x="974" y="279" width="5" height="11" fill="#000"/>
<rect x="975" y="280" width="3" height="9" fill="#fff"/>
<rect x="984" y="281" width="1" height="6" fill="#000"/>
<rect x="982" y="284" width="5" height="3" fill="#000"/>
<rect x="983" y="285" width="3" height="1" fill="#fff"/>
<rect x="992" y="284" width="1" height="75" fill="#000"/>
<rect x="990" y="285" width="5" height="35" fill="#000"/>
<rect x="1000" y="301" width="1" height="38" fill="#000"/>
<rect x="998" y="309" width="5" height="11" fill="#000"/>
<rect x="999" y="310" width="3" height="9" fill="#fff"/>
<rect x="1008" y="264" width="1" height="47" fill="#000"/>
<rect x="1006" y="301" width="5" height="9" fill="#000"/>
<rect x="1007" y="302" width="3" height="7" fill="#fff"/>
<rect x="1016" y="290" width="1" height="50" fill="#000"/>
<rect x="1014" y="301" width="5" height="32" fill="#000"/>
<rect x="1024" y="330" width="1" height="72" fill="#000"/>
<rect x="1022" y="332" width="5" height="40" fill="#000"/>
<rect x="1032" y="328" width="1" height="14" fill="#000"/>
<rect x="1030" y="336" width="5" height="2" fill="#000"/>
<rect x="1040" y="299" width="1" height="46" fill="#000"/>
<rect x="1038" y="331" width="5" height="7" fill="#000"/>
<rect x="1039" y="332" width="3" height="5" fill="#fff"/>
<rect x="1048" y="292" width="1" height="52" fill="#000"/>
<rect x="1046" y="301" width="5" height="31" fill="#000"/>
<rect x="1047" y="302" width="3" height="29" fill="#fff"/>
<rect x="1056" y="274" width="1" height="37" fill="#000"/>
<rect x="1054" y="288" width="5" height="15" fill="#000"/>
<rect x="1055" y="289" width="3" height="13" fill="#fff"/>
<rect x="1064" y="260" width="1" height="34" fill="#000"/>
<rect x="1062" y="278" width="5" height="11" fill="#000"/>
<rect x="1063" y="279" width="3" height="9" fill="#fff"/>
<rect x="1072" y="264" width="1" height="39" fill="#000"/>
<rect x="1070" y="278" width="5" height="18" fill="#000"/>
<rect x="1080" y="318" width="1" height="19" fill="#000"/>
<rect x="1078" y="324" width="5" height="5" fill="#000"/>
<rect x="1088" y="296" width="1" height="100" fill="#000"/>
<rect x="1086" y="317" width="5" height="11" fill="#000"/>
<rect x="1087" y="318" width="3" height="9" fill="#fff"/>
<rect x="1096" y="311" width="1" height="44" fill="#000"/>
<rect x="1094" y="317" width="5" height="10" fill="#000"/>
<rect x="1104" y="265" width="1" height="66" fill="#000"/>
<rect x="1102" y="281" width="5" height="47" fill="#000"/>
<rect x="1103" y="282" width="3" height="45" fill="#fff"/>
<rect x="1112" y="230" width="1" height="54" fill="#000"/>
<rect x="1110" y="262" width="5" height="21" fill="#000"/>
<rect x="1111" y="263" width="3" height="19" fill="#fff"/>
<rect x="1120" y="257" width="1" height="11" fill="#000"/>
<rect x="1118" y="258" width="5" height="10" fill="#000"/>
<rect x="1119" y="259" width="3" height="8" fill="#fff"/>
<rect x="1128" y="254" width="1" height="44" fill="#000"/>
<rect x="1126" y="258" width="5" height="33" fill="#000"/>
<rect x="1136" y="270" width="1" height="23" fill="#000"/>
<rect x="1134" y="286" width="5" height="5" fill="#000"/>
<rect x="1135" y="287" width="3" height="3" fill="#fff"/>
<rect x="1144" y="251" width="1" height="38" fill="#000"/>
<rect x="1142" y="255" width="5" height="32" fill="#000"/>
<rect x="1143" y="256" width="3" height="30" fill="#fff"/>
<rect x="1152" y="228" width="1" height="36" fill="#000"/>
<rect x="1150" y="239" width="5" height="17" fill="#000"/>
<rect x="1151" y="240" width="3" height="15" fill="#fff"/>
<rect x="1160" y="226" width="1" height="17" fill="#000"/>
<rect x="1158" y="228" width="5" height="15" fill="#000"/>
<rect x="1159" y="229" width="3" height="13" fill="#fff"/>
<rect x="1168" y="227" width="1" height="63" fill="#000"/>
<rect x="1166" y="228" width="5" height="51" fill="#000"/>
<rect x="1176" y="271" width="1" height="26" fill="#000"/>
<rect x="1174" y="279" width="5" height="1" fill="#000"/>
<rect x="1184" y="254" width="1" height="32" fill="#000"/>
<rect x="1182" y="263" width="5" height="17" fill="#000"/>
<rect x="1183" y="264" width="3" height="15" fill="#fff"/>
<rect x="1192" y="238" width="1" height="36" fill="#000"/>
<rect x="1190" y="244" width="5" height="19" fill="#000"/>
<rect x="1191" y="245" width="3" height="17" fill="#fff"/>
<rect x="1200" y="223" width="1" height="26" fill="#000"/>
<rect x="1198" y="241" width="5" height="4" fill="#000"/>
<rect x="1199" y="242" width="3" height="2" fill="#fff"/>
<rect x="1208" y="242" width="1" height="9" fill="#000"/>
<rect x="1206" y="247" width="5" height="3" fill="#000"/>
<rect x="1216" y="241" width="1" height="24" fill="#000"/>
<rect x="1214" y="245" width="5" height="6" fill="#000"/>
<rect x="1215" y="246" width="3" height="4" fill="#fff"/>
<rect x="1224" y="198" width="1" height="50" fill="#000"/>
<rect x="1222" y="207" width="5" height="39" fill="#000"/>
<rect x="1223" y="208" width="3" height="37" fill="#fff"/>
<rect x="1232" y="189" width="1" height="30" fill="#000"/>
<rect x="1230" y="207" width="5" height="5" fill="#000"/>
<rect x="1240" y="190" width="1" height="25" fill="#000"/>
<rect x="1238" y="196" width="5" height="16" fill="#000"/>
<rect x="1239" y="197" width="3" height="14" fill="#fff"/>
<rect x="1248" y="195" width="1" height="46" fill="#000"/>
<rect x="1246" y="196" width="5" height="41" fill="#000"/>
<rect x="1256" y="230" width="1" height="12" fill="#000"/>
<rect x="1254" y="237" width="5" height="4" fill="#000"/>
<rect x="1255" y="238" width="3" height="2" fill="#fff"/>
<rect x="1264" y="235" width="1" height="29" fill="#000"/>
<rect x="1262" y="237" width="5" height="7" fill="#000"/>
<rect x="1272" y="208" width="1" height="38" fill="#000"/>
<rect x="1270" y="208" width="5" height="37" fill="#000"/>
<rect x="1271" y="209" width="3" height="35" fill="#fff"/>
<rect x="1280" y="186" width="1" height="50" fill="#000"/>
<rect x="1278" y="209" width="5" height="9" fill="#000"/>
<rect x="1288" y="191" width="1" height="31" fill="#000"/>
<rect x="1286" y="195" width="5" height="24" fill="#000"/>
<rect x="1287" y="196" width="3" height="22" fill="#fff"/>
<rect x="1296" y="191" width="1" height="28" fill="#000"/>
<rect x="1294" y="196" width="5" height="2" fill="#000"/>
<rect x="1304" y="197" width="1" height="5" fill="#000"/>
<rect x="1302" y="197" width="5" height="5" fill="#000"/>
<rect x="1303" y="198" width="3" height="3" fill="#fff"/>
<rect x="1312" y="186" width="1" height="27" fill="#000"/>
<rect x="1310" y="197" width="5" height="7" fill="#000"/>
<rect x="1320" y="182" width="1" height="46" fill="#000"/>
<rect x="1318" y="185" width="5" height="19" fill="#000"/>
<rect x="1319" y="186" width="3" height="17" fill="#fff"/>
<rect x="1328" y="164" width="1" height="28" fill="#000"/>
<rect x="1326" y="185" width="5" height="2" fill="#000"/>
<rect x="1336" y="150" width="1" height="43" fill="#000"/>
<rect x="1334" y="155" width="5" height="31" fill="#000"/>
<rect x="1335" y="156" width="3" height="29" fill="#fff"/>
<rect x="1344" y="123" width="1" height="38" fill="#000"/>
<rect x="1342" y="141" width="5" height="15" fill="#000"/>
<rect x="1343" y="142" width="3" height="13" fill="#fff"/>
<rect x="1352" y="137" width="1" height="8" fill="#000"/>
<rect x="1350" y="138" width="5" height="6" fill="#000"/>
<rect x="1360" y="118" width="1" height="33" fill="#000"/>
<rect x="1358" y="144" width="5" height="1" fill="#000"/>
<rect x="1368" y="130" width="1" height="26" fill="#000"/>
<rect x="1366" y="143" width="5" height="2" fill="#000"/>
<rect x="1376" y="134" width="1" height="23" fill="#000"/>
<rect x="1374" y="142" width="5" height="7" fill="#000"/>
<rect x="1384" y="106" width="1" height="62" fill="#000"/>
<rect x="1382" y="108" width="5" height="41" fill="#000"/>
<rect x="1383" y="109" width="3" height="39" fill="#fff"/>
<rect x="1392" y="87" width="1" height="26" fill="#000"/>
<rect x="1390" y="94" width="5" height="15" fill="#000"/>
<rect x="1391" y="95" width="3" height="13" fill="#fff"/>
<rect x="1400" y="90" width="1" height="10" fill="#000"/>
<rect x="1398" y="91" width="5" height="8" fill="#000"/>
<rect x="1399" y="92" width="3" height="6" fill="#fff"/>
<rect x="1408" y="85" width="1" height="22" fill="#000"/>
<rect x="1406" y="91" width="5" height="8" fill="#000"/>
<rect x="1416" y="95" width="1" height="26" fill="#000"/>
<rect x="1414" y="98" width="5" height="6" fill="#000"/>
<rect x="1424" y="83" width="1" height="25" fill="#000"/>
<rect x="1422" y="96" width="5" height="7" fill="#000"/>
<rect x="1423" y="97" width="3" height="5" fill="#fff"/>
<rect x="1432" y="83" width="1" height="17" fill="#000"/>
<rect x="1430" y="96" width="5" height="1" fill="#000"/>
<rect x="1440" y="64" width="1" height="39" fill="#000"/>
<rect x="1438" y="68" width="5" height="29" fill="#000"/>
<rect x="1439" y="69" width="3" height="27" fill="#fff"/>
</g></g>
<g clip-path="url(#cd)"><g shape-rendering="crispEdges">
<rect x="0" y="639" width="1" height="17" fill="#c0c0c0"/>
<rect x="8" y="639" width="1" height="17" fill="#c0c0c0"/>
<rect x="16" y="641" width="1" height="15" fill="#c0c0c0"/>
<rect x="24" y="642" width="1" height="14" fill="#c0c0c0"/>
<rect x="32" y="637" width="1" height="19" fill="#c0c0c0"/>
<rect x="40" y="632" width="1" height="24" fill="#c0c0c0"/>
<rect x="48" y="627" width="1" height="29" fill="#c0c0c0"/>
<rect x="56" y="625" width="1" height="31" fill="#c0c0c0"/>
<rect x="64" y="626" width="1" height="30" fill="#c0c0c0"/>
<rect x="72" y="627" width="1" height="29" fill="#c0c0c0"/>
<rect x="80" y="627" width="1" height="29" fill="#c0c0c0"/>
<rect x="88" y="627" width="1" height="29" fill="#c0c0c0"/>
<rect x="96" y="625" width="1" height="31" fill="#c0c0c0"/>
<rect x="104" y="619" width="1" height="37" fill="#c0c0c0"/>
<rect x="112" y="608" width="1" height="48" fill="#c0c0c0"/>
<rect x="120" y="600" width="1" height="56" fill="#c0c0c0"/>
<rect x="128" y="594" width="1" height="62" fill="#c0c0c0"/>
<rect x="136" y="592" width="1" height="64" fill="#c0c0c0"/>
<rect x="144" y="590" width="1" height="66" fill="#c0c0c0"/>
<rect x="152" y="588" width="1" height="68" fill="#c0c0c0"/>
<rect x="160" y="590" width="1" height="66" fill="#c0c0c0"/>
<rect x="168" y="592" width="1" height="64" fill="#c0c0c0"/>
<rect x="176" y="593" width="1" height="63" fill="#c0c0c0"/>
<rect x="184" y="592" width="1" height="64" fill="#c0c0c0"/>
<rect x="192" y="590" width="1" height="66" fill="#c0c0c0"/>
<rect x="200" y="587" width="1" height="69" fill="#c0c0c0"/>
<rect x="208" y="587" width="1" height="69" fill="#c0c0c0"/>
<rect x="216" y="587" width="1" height="69" fill="#c0c0c0"/>
<rect x="224" y="592" width="1" height="64" fill="#c0c0c0"/>
<rect x="232" y="593" width="1" height="63" fill="#c0c0c0"/>
<rect x="240" y="597" width="1" height="59" fill="#c0c0c0"/>
<rect x="248" y="597" width="1" height="59" fill="#c0c0c0"/>
<rect x="256" y="604" width="1" height="52" fill="#c0c0c0"/>
<rect x="264" y="610" width="1" height="46" fill="#c0c0c0"/>
<rect x="272" y="615" width="1" height="41" fill="#c0c0c0"/>
<rect x="280" y="613" width="1" height="43" fill="#c0c0c0"/>
<rect x="288" y="611" width="1" height="45" fill="#c0c0c0"/>
<rect x="296" y="607" width="1" height="49" fill="#c0c0c0"/>
<rect x="304" y="604" width="1" height="52" fill="#c0c0c0"/>
<rect x="312" y="601" width="1" height="55" fill="#c0c0c0"/>
<rect x="320" y="596" width="1" height="60" fill="#c0c0c0"/>
<rect x="328" y="592" width="1" height="64" fill="#c0c0c0"/>
<rect x="336" y="589" width="1" height="67" fill="#c0c0c0"/>
<rect x="344" y="594" width="1" height="62" fill="#c0c0c0"/>
<rect x="352" y="596" width="1" height="60" fill="#c0c0c0"/>
<rect x="360" y="599" width="1" height="57" fill="#c0c0c0"/>
<rect x="368" y="607" width="1" height="49" fill="#c0c0c0"/>
<rect x="376" y="627" width="1" height="29" fill="#c0c0c0"/>
<rect x="384" y="639" width="1" height="17" fill="#c0c0c0"/>
<rect x="392" y="655" width="1" height="6" fill="#c0c0c0"/>
<rect x="400" y="655" width="1" height="23" fill="#c0c0c0"/>
<rect x="408" y="655" width="1" height="35" fill="#c0c0c0"/>
<rect x="416" y="655" width="1" height="44" fill="#c0c0c0"/>
<rect x="424" y="655" width="1" height="52" fill="#c0c0c0"/>
<rect x="432" y="655" width="1" height="55" fill="#c0c0c0"/>
<rect x="440" y="655" width="1" height="58" fill="#c0c0c0"/>
<rect x="448" y="655" width="1" height="64" fill="#c0c0c0"/>
<rect x="456" y="655" width="1" height="67" fill="#c0c0c0"/>
<rect x="464" y="655" width="1" height="74" fill="#c0c0c0"/>
<rect x="472" y="655" width="1" height="81" fill="#c0c0c0"/>
<rect x="480" y="655" width="1" height="85" fill="#c0c0c0"/>
<rect x="488" y="655" width="1" height="84" fill="#c0c0c0"/>
<rect x="496" y="655" width="1" height="82" fill="#c0c0c0"/>
<rect x="504" y="655" width="1" height="79" fill="#c0c0c0"/>
<rect x="512" y="655" width="1" height="70" fill="#c0c0c0"/>
<rect x="520" y="655" width="1" height="61" fill="#c0c0c0"/>
<rect x="528" y="655" width="1" height="53" fill="#c0c0c0"/>
<rect x="536" y="655" width="1" height="46" fill="#c0c0c0"/>
<rect x="544" y="655" width="1" height="39" fill="#c0c0c0"/>
<rect x="552" y="655" width="1" height="33" fill="#c0c0c0"/>
<rect x="560" y="655" width="1" height="23" fill="#c0c0c0"/>
<rect x="568" y="655" width="1" height="21" fill="#c0c0c0"/>
<rect x="576" y="655" width="1" height="15" fill="#c0c0c0"/>
<rect x="584" y="655" width="1" height="9" fill="#c0c0c0"/>
<rect x="592" y="655" width="1" height="1" fill="#c0c0c0"/>
<rect x="600" y="650" width="1" height="6" fill="#c0c0c0"/>
<rect x="608" y="646" width="1" height="10" fill="#c0c0c0"/>
<rect x="616" y="649" width="1" height="7" fill="#c0c0c0"/>
<rect x="624" y="649" width="1" height="7" fill="#c0c0c0"/>
<rect x="632" y="654" width="1" height="2" fill="#c0c0c0"/>
<rect x="640" y="655" width="1" height="2" fill="#c0c0c0"/>
<rect x="648" y="655" width="1" height="3" fill="#c0c0c0"/>
<rect x="656" y="655" width="1" height="3" fill="#c0c0c0"/>
<rect x="664" y="655" width="1" height="3" fill="#c0c0c0"/>
<rect x="672" y="652" width="1" height="4" fill="#c0c0c0"/>
<rect x="680" y="650" width="1" height="6" fill="#c0c0c0"/>
<rect x="688" y="652" width="1" height="4" fill="#c0c0c0"/>
<rect x="696" y="652" width="1" height="4" fill="#c0c0c0"/>
<rect x="704" y="654" width="1" height="2" fill="#c0c0c0"/>
<rect x="712" y="655" width="1" height="3" fill="#c0c0c0"/>
<rect x="720" y="655" width="1" height="8" fill="#c0c0c0"/>
<rect x="728" y="655" width="1" height="14" fill="#c0c0c0"/>
<rect x="736" y="655" width="1" height="16" fill="#c0c0c0"/>
<rect x="744" y="655" width="1" height="20" fill="#c0c0c0"/>
<rect x="752" y="655" width="1" height="22" fill="#c0c0c0"/>
<rect x="760" y="655" width="1" height="14" fill="#c0c0c0"/>
<rect x="768" y="655" width="1" height="16" fill="#c0c0c0"/>
<rect x="776" y="655" width="1" height="15" fill="#c0c0c0"/>
<rect x="784" y="655" width="1" height="15" fill="#c0c0c0"/>
<rect x="792" y="655" width="1" height="13" fill="#c0c0c0"/>
<rect x="800" y="654" width="1" height="2" fill="#c0c0c0"/>
<rect x="808" y="638" width="1" height="18" fill="#c0c0c0"/>
<rect x="816" y="627" width="1" height="29" fill="#c0c0c0"/>
<rect x="824" y="626" width="1" height="30" fill="#c0c0c0"/>
<rect x="832" y="625" width="1" height="31" fill="#c0c0c0"/>
<rect x="840" y="623" width="1" height="33" fill="#c0c0c0"/>
<rect x="848" y="622" width="1" height="34" fill="#c0c0c0"/>
<rect x="856" y="622" width="1" height="34" fill="#c0c0c0"/>
<rect x="864" y="625" width="1" height="31" fill="#c0c0c0"/>
<rect x="872" y="629" width="1" height="27" fill="#c0c0c0"/>
<rect x="880" y="630" width="1" height="26" fill="#c0c0c0"/>
<rect x="888" y="630" width="1" height="26" fill="#c0c0c0"/>
<rect x="896" y="624" width="1" height="32" fill="#c0c0c0"/>
<rect x="904" y="618" width="1" height="38" fill="#c0c0c0"/>
<rect x="912" y="614" width="1" height="42" fill="#c0c0c0"/>
<rect x="920" y="613" width="1" height="43" fill="#c0c0c0"/>
<rect x="928" y="617" width="1" height="39" fill="#c0c0c0"/>
<rect x="936" y="619" width="1" height="37" fill="#c0c0c0"/>
<rect x="944" y="619" width="1" height="37" fill="#c0c0c0"/>
<rect x="952" y="616" width="1" height="40" fill="#c0c0c0"/>
<rect x="960" y="615" width="1" height="41" fill="#c0c0c0"/>
<rect x="968" y="614" width="1" height="42" fill="#c0c0c0"/>
<rect x="976" y="613" width="1" height="43" fill="#c0c0c0"/>
<rect x="984" y="613" width="1" height="43" fill="#c0c0c0"/>
<rect x="992" y="619" width="1" height="37" fill="#c0c0c0"/>
<rect x="1000" y="622" width="1" height="34" fill="#c0c0c0"/>
<rect x="1008" y="624" width="1" height="32" fill="#c0c0c0"/>
<rect x="1016" y="629" width="1" height="27" fill="#c0c0c0"/>
<rect x="1024" y="639" width="1" height="17" fill="#c0c0c0"/>
<rect x="1032" y="643" width="1" height="13" fill="#c0c0c0"/>
<rect x="1040" y="645" width="1" height="11" fill="#c0c0c0"/>
<rect x="1048" y="643" width="1" height="13" fill="#c0c0c0"/>
<rect x="1056" y="640" width="1" height="16" fill="#c0c0c0"/>
<rect x="1064" y="636" width="1" height="20" fill="#c0c0c0"/>
<rect x="1072" y="636" width="1" height="20" fill="#c0c0c0"/>
<rect x="1080" y="640" width="1" height="16" fill="#c0c0c0"/>
<rect x="1088" y="642" width="1" height="14" fill="#c0c0c0"/>
<rect x="1096" y="645" width="1" height="11" fill="#c0c0c0"/>
<rect x="1104" y="641" width="1" height="15" fill="#c0c0c0"/>
<rect x="1112" y="636" width="1" height="20" fill="#c0c0c0"/>
<rect x="1120" y="632" width="1" height="24" fill="#c0c0c0"/>
<rect x="1128" y="633" width="1" height="23" fill="#c0c0c0"/>
<rect x="1136" y="634" width="1" height="22" fill="#c0c0c0"/>
<rect x="1144" y="631" width="1" height="25" fill="#c0c0c0"/>
<rect x="1152" y="626" width="1" height="30" fill="#c0c0c0"/>
<rect x="1160" y="622" width="1" height="34" fill="#c0c0c0"/>
<rect x="1168" y="625" width="1" height="31" fill="#c0c0c0"/>
<rect x="1176" y="628" width="1" height="28" fill="#c0c0c0"/>
<rect x="1184" y="629" width="1" height="27" fill="#c0c0c0"/>
<rect x="1192" y="627" width="1" height="29" fill="#c0c0c0"/>
<rect x="1200" y="626" width="1" height="30" fill="#c0c0c0"/>
<rect x="1208" y="626" width="1" height="30" fill="#c0c0c0"/>
<rect x="1216" y="626" width="1" height="30" fill="#c0c0c0"/>
<rect x="1224" y="622" width="1" height="34" fill="#c0c0c0"/>
<rect x="1232" y="619" width="1" height="37" fill="#c0c0c0"/>
<rect x="1240" y="616" width="1" height="40" fill="#c0c0c0"/>
<rect x="1248" y="618" width="1" height="38" fill="#c0c0c0"/>
<rect x="1256" y="621" width="1" height="35" fill="#c0c0c0"/>
<rect x="1264" y="624" width="1" height="32" fill="#c0c0c0"/>
<rect x="1272" y="623" width="1" height="33" fill="#c0c0c0"/>
<rect x="1280" y="623" width="1" height="33" fill="#c0c0c0"/>
<rect x="1288" y="621" width="1" height="35" fill="#c0c0c0"/>
<rect x="1296" y="620" width="1" height="36" fill="#c0c0c0"/>
<rect x="1304" y="619" width="1" height="37" fill="#c0c0c0"/>
<rect x="1312" y="620" width="1" height="36" fill="#c0c0c0"/>
<rect x="1320" y="619" width="1" height="37" fill="#c0c0c0"/>
<rect x="1328" y="618" width="1" height="38" fill="#c0c0c0"/>
<rect x="1336" y="615" width="1" height="41" fill="#c0c0c0"/>
<rect x="1344" y="610" width="1" height="46" fill="#c0c0c0"/>
<rect x="1352" y="607" width="1" height="49" fill="#c0c0c0"/>
<rect x="1360" y="606" width="1" height="50" fill="#c0c0c0"/>
<rect x="1368" y="605" width="1" height="51" fill="#c0c0c0"/>
<rect x="1376" y="606" width="1" height="50" fill="#c0c0c0"/>
<rect x="1384" y="602" width="1" height="54" fill="#c0c0c0"/>
<rect x="1392" y="598" width="1" height="58" fill="#c0c0c0"/>
<rect x="1400" y="594" width="1" height="62" fill="#c0c0c0"/>
<rect x="1408" y="594" width="1" height="62" fill="#c0c0c0"/>
<rect x="1416" y="594" width="1" height="62" fill="#c0c0c0"/>
<rect x="1424" y="594" width="1" height="62" fill="#c0c0c0"/>
<rect x="1432" y="595" width="1" height="61" fill="#c0c0c0"/>
<rect x="1440" y="593" width="1" height="63" fill="#c0c0c0"/>
</g>
<polyline points="0.5,642.9 8.5,640.8 16.5,639.6 24.5,639.2 32.5,638.8 40.5,638.1 48.5,637.0 56.5,635.7 64.5,634.3 72.5,632.9 80.5,631.6 88.5,630.0 96.5,628.1 104.5,626.0 112.5,623.3 120.5,620.3 128.5,616.8 136.5,613.1 144.5,609.0 152.5,604.7 160.5,600.5 168.5,596.9 176.5,594.0 184.5,592.2 192.5,591.1 200.5,590.4 208.5,589.8 216.5,589.5 224.5,589.9 232.5,590.3 240.5,590.8 248.5,591.3 256.5,592.6 264.5,594.9 272.5,598.0 280.5,600.9 288.5,603.6 296.5,605.3 304.5,606.5 312.5,607.0 320.5,606.9 328.5,605.4 336.5,603.2 344.5,600.8 352.5,598.8 360.5,597.5 368.5,597.6 376.5,600.2 384.5,604.4 392.5,611.4 400.5,620.9 408.5,632.0 416.5,643.6 424.5,655.9 432.5,668.0 440.5,679.7 448.5,689.8 456.5,698.9 464.5,706.6 472.5,713.0 480.5,718.5 488.5,722.9 496.5,726.3 504.5,728.9 512.5,730.2 520.5,729.9 528.5,728.2 536.5,725.1 544.5,720.5 552.5,714.7 560.5,708.0 568.5,701.1 576.5,694.1 584.5,687.3 592.5,680.7 600.5,674.4 608.5,668.3 616.5,663.4 624.5,659.2 632.5,656.6 640.5,654.5 648.5,653.2 656.5,652.6 664.5,652.7 672.5,653.0 680.5,653.4 688.5,653.8 696.5,654.2 704.5,654.2 712.5,654.3 720.5,654.8 728.5,656.0 736.5,657.5 744.5,659.9 752.5,662.7 760.5,664.5 768.5,666.5 776.5,668.1 784.5,669.5 792.5,670.0 800.5,668.5 808.5,664.9 816.5,659.7 824.5,654.1 832.5,649.4 840.5,644.1 848.5,639.0 856.5,633.8 864.5,629.2 872.5,626.4 880.5,625.5 888.5,625.8 896.5,625.6 904.5,624.8 912.5,623.8 920.5,622.8 928.5,622.2 936.5,621.5 944.5,620.5 952.5,618.9 960.5,617.3 968.5,616.2 976.5,615.6 984.5,615.6 992.5,616.2 1000.5,616.6 1008.5,617.1 1016.5,618.2 1024.5,620.8 1032.5,624.0 1040.5,627.4 1048.5,630.7 1056.5,633.6 1064.5,635.5 1072.5,637.1 1080.5,638.9 1088.5,640.3 1096.5,640.9 1104.5,640.8 1112.5,639.8 1120.5,638.7 1128.5,638.0 1136.5,637.7 1144.5,637.2 1152.5,635.7 1160.5,633.4 1168.5,631.2 1176.5,629.8 1184.5,629.0 1192.5,628.4 1200.5,627.6 1208.5,626.7 1216.5,626.2 1224.5,625.7 1232.5,625.4 1240.5,624.3 1248.5,623.2 1256.5,622.4 1264.5,622.0 1272.5,621.7 1280.5,621.4 1288.5,620.8 1296.5,620.6 1304.5,620.6 1312.5,621.1 1320.5,621.2 1328.5,620.9 1336.5,619.8 1344.5,618.4 1352.5,616.6 1360.5,615.0 1368.5,613.4 1376.5,611.9 1384.5,609.9 1392.5,607.5 1400.5,604.8 1408.5,602.5 1416.5,600.8 1424.5,599.3 1432.5,598.1 1440.5,596.8" fill="none" stroke="#f00" stroke-width="1" stroke-dasharray="3 3" shape-rendering="crispEdges"/>
</g>
<g shape-rendering="crispEdges">
<line x1="0" y1="785.5" x2="1682" y2="785.5" stroke="#c0c0c0" stroke-dasharray="3 3"/>
<line x1="0" y1="836.5" x2="1682" y2="836.5" stroke="#c0c0c0" stroke-dasharray="3 3"/>
<line x1="0" y1="897.5" x2="1682" y2="897.5" stroke="#c0c0c0" stroke-dasharray="3 3"/>
</g>
<g clip-path="url(#cr)">
<polyline points="0.5,830.9 8.5,829.0 16.5,835.3 24.5,831.2 32.5,814.6 40.5,810.9 48.5,806.4 56.5,815.2 64.5,824.1 72.5,824.1 80.5,822.5 88.5,819.6 96.5,812.8 104.5,801.4 112.5,790.9 120.5,790.4 128.5,791.2 136.5,801.7 144.5,798.6 152.5,797.2 160.5,807.7 168.5,810.3 176.5,805.2 184.5,801.1 192.5,797.1 200.5,793.4 208.5,801.3 216.5,799.7 224.5,816.7 232.5,810.1 240.5,818.1 248.5,810.9 256.5,830.9 264.5,829.9 272.5,831.1 280.5,815.0 288.5,814.4 296.5,806.6 304.5,809.1 312.5,806.5 320.5,800.4 328.5,798.3 336.5,801.4 344.5,820.9 352.5,816.1 360.5,821.7 368.5,835.0 376.5,860.0 384.5,851.5 392.5,866.1 400.5,867.4 408.5,864.5 416.5,865.2 424.5,865.5 432.5,860.1 440.5,862.7 448.5,868.0 456.5,867.0 464.5,874.1 472.5,876.0 480.5,876.0 488.5,865.2 496.5,866.0 504.5,859.6 512.5,845.3 520.5,842.6 528.5,839.1 536.5,841.5 544.5,837.2 552.5,835.4 560.5,823.6 568.5,840.7 576.5,831.3 584.5,827.7 592.5,822.3 600.5,823.6 608.5,823.8 616.5,840.5 624.5,835.3 632.5,845.9 640.5,841.3 648.5,841.3 656.5,837.9 664.5,836.0 672.5,825.9 680.5,830.0 688.5,839.6 696.5,837.3 704.5,840.6 712.5,843.6 720.5,853.0 728.5,856.7 736.5,848.9 744.5,854.7 752.5,851.8 760.5,826.1 768.5,846.0 776.5,838.1 784.5,841.2 792.5,838.2 800.5,817.1 808.5,809.7 816.5,812.2 824.5,827.9 832.5,828.3 840.5,824.2 848.5,825.9 856.5,827.0 864.5,832.1 872.5,833.9 880.5,830.2 888.5,827.4 896.5,816.2 904.5,813.4 912.5,812.5 920.5,820.4 928.5,831.5 936.5,827.5 944.5,824.0 952.5,815.4 960.5,820.7 968.5,820.1 976.5,817.5 984.5,819.6 992.5,833.3 1000.5,830.1 1008.5,827.5 1016.5,838.9 1024.5,850.5 1032.5,839.0 1040.5,837.1 1048.5,828.3 1056.5,824.8 1064.5,822.0 1072.5,828.4 1080.5,839.5 1088.5,835.8 1096.5,838.9 1104.5,825.2 1112.5,820.4 1120.5,819.3 1128.5,831.1 1136.5,829.9 1144.5,821.2 1152.5,817.2 1160.5,814.4 1168.5,832.7 1176.5,832.9 1184.5,828.2 1192.5,822.9 1200.5,821.9 1208.5,825.3 1216.5,824.1 1224.5,813.2 1232.5,815.2 1240.5,811.1 1248.5,828.1 1256.5,828.5 1264.5,830.9 1272.5,819.9 1280.5,823.7 1288.5,817.3 1296.5,818.4 1304.5,818.2 1312.5,821.5 1320.5,815.3 1328.5,815.9 1336.5,806.5 1344.5,802.9 1352.5,804.1 1360.5,805.1 1368.5,805.0 1376.5,808.0 1384.5,796.3 1392.5,792.9 1400.5,792.3 1408.5,798.1 1416.5,801.4 1424.5,799.0 1432.5,799.5 1440.5,791.7" fill="none" stroke="#1e90ff" stroke-width="1" shape-rendering="crispEdges"/>
</g>
<g shape-rendering="crispEdges">
<rect x="0" y="22" width="1683" height="1" fill="#000" />
<rect x="1682" y="22" width="1" height="902" fill="#000"/>
<rect x="0" y="575" width="1683" height="1" fill="#000" />
<rect x="0" y="577" width="1683" height="1" fill="#000" />
<rect x="0" y="747" width="1683" height="1" fill="#000" />
<rect x="0" y="749" width="1683" height="1" fill="#000" />
<rect x="0" y="923" width="1683" height="1" fill="#000" />
</g>
<text transform="translate(1449.2,124.4) scale(1,0.93)" font-size="21.3" fill="#0f0" font-family="'Noto Serif CJK SC','Noto Sans CJK SC',serif" font-weight="300">多空转折点</text>
<line x1="1071.5" y1="357.4" x2="1492.2" y2="39.9" stroke="#f00" stroke-width="3.2"/>
<polygon points="1499.0,34.8 1493.4,44.9 1487.8,37.4" fill="#f00"/>
<line x1="1080" y1="638.4" x2="1485.6" y2="592.5" stroke="#f00" stroke-width="3.3"/>
<polygon points="1495.0,591.4 1484.1,597.4 1483.0,588.0" fill="#f00"/>
<line x1="1030.5" y1="841" x2="1452.1" y2="793.6" stroke="#f00" stroke-width="3.3"/>
<polygon points="1461.5,792.5 1450.6,798.5 1449.5,789.1" fill="#f00"/>
<rect x="1402" y="75" width="130" height="8" fill="#0f0" shape-rendering="crispEdges"/>
<g shape-rendering="crispEdges">
<rect x="1683" y="143" width="2" height="1" fill="#000"/>
<rect x="1683" y="176" width="2" height="1" fill="#000"/>
<rect x="1683" y="209" width="2" height="1" fill="#000"/>
<rect x="1683" y="242" width="2" height="1" fill="#000"/>
<rect x="1683" y="275" width="2" height="1" fill="#000"/>
<rect x="1683" y="308" width="2" height="1" fill="#000"/>
<rect x="1683" y="341" width="2" height="1" fill="#000"/>
<rect x="1683" y="374" width="2" height="1" fill="#000"/>
<rect x="1683" y="407" width="2" height="1" fill="#000"/>
<rect x="1683" y="440" width="2" height="1" fill="#000"/>
<rect x="1683" y="473" width="2" height="1" fill="#000"/>
<rect x="1683" y="506" width="2" height="1" fill="#000"/>
<rect x="1683" y="539" width="2" height="1" fill="#000"/>
<rect x="1683" y="572" width="2" height="1" fill="#000"/>
<rect x="1683" y="110" width="2" height="1" fill="#000"/>
</g>
<text x="1688.6" y="147" font-size="9.8" fill="#000" stroke="#000" stroke-width="0.25" text-rendering="geometricPrecision" textLength="32.6" lengthAdjust="spacingAndGlyphs">143.425</text>
<text x="1688.6" y="180" font-size="9.8" fill="#000" stroke="#000" stroke-width="0.25" text-rendering="geometricPrecision" textLength="32.6" lengthAdjust="spacingAndGlyphs">142.575</text>
<text x="1688.6" y="213" font-size="9.8" fill="#000" stroke="#000" stroke-width="0.25" text-rendering="geometricPrecision" textLength="32.6" lengthAdjust="spacingAndGlyphs">141.725</text>
<text x="1688.6" y="246" font-size="9.8" fill="#000" stroke="#000" stroke-width="0.25" text-rendering="geometricPrecision" textLength="32.6" lengthAdjust="spacingAndGlyphs">140.875</text>
<text x="1688.6" y="279" font-size="9.8" fill="#000" stroke="#000" stroke-width="0.25" text-rendering="geometricPrecision" textLength="32.6" lengthAdjust="spacingAndGlyphs">140.025</text>
<text x="1688.6" y="312" font-size="9.8" fill="#000" stroke="#000" stroke-width="0.25" text-rendering="geometricPrecision" textLength="32.6" lengthAdjust="spacingAndGlyphs">139.175</text>
<text x="1688.6" y="345" font-size="9.8" fill="#000" stroke="#000" stroke-width="0.25" text-rendering="geometricPrecision" textLength="32.6" lengthAdjust="spacingAndGlyphs">138.325</text>
<text x="1688.6" y="378" font-size="9.8" fill="#000" stroke="#000" stroke-width="0.25" text-rendering="geometricPrecision" textLength="32.6" lengthAdjust="spacingAndGlyphs">137.475</text>
<text x="1688.6" y="411" font-size="9.8" fill="#000" stroke="#000" stroke-width="0.25" text-rendering="geometricPrecision" textLength="32.6" lengthAdjust="spacingAndGlyphs">136.625</text>
<text x="1688.6" y="444" font-size="9.8" fill="#000" stroke="#000" stroke-width="0.25" text-rendering="geometricPrecision" textLength="32.6" lengthAdjust="spacingAndGlyphs">135.775</text>
<text x="1688.6" y="477" font-size="9.8" fill="#000" stroke="#000" stroke-width="0.25" text-rendering="geometricPrecision" textLength="32.6" lengthAdjust="spacingAndGlyphs">134.925</text>
<text x="1688.6" y="510" font-size="9.8" fill="#000" stroke="#000" stroke-width="0.25" text-rendering="geometricPrecision" textLength="32.6" lengthAdjust="spacingAndGlyphs">134.075</text>
<text x="1688.6" y="543" font-size="9.8" fill="#000" stroke="#000" stroke-width="0.25" text-rendering="geometricPrecision" textLength="32.6" lengthAdjust="spacingAndGlyphs">133.225</text>
<text x="1688.6" y="576" font-size="9.8" fill="#000" stroke="#000" stroke-width="0.25" text-rendering="geometricPrecision" textLength="32.6" lengthAdjust="spacingAndGlyphs">132.375</text>
<text x="1688.6" y="114" font-size="9.8" fill="#000" stroke="#000" stroke-width="0.25" text-rendering="geometricPrecision" textLength="32.6" lengthAdjust="spacingAndGlyphs">144.275</text>
<rect x="1684" y="24" width="41" height="10" fill="#f00" shape-rendering="crispEdges"/>
<text x="1688.6" y="32" font-size="9.8" fill="#fff" stroke="#fff" stroke-width="0.25" text-rendering="geometricPrecision" textLength="32.6" lengthAdjust="spacingAndGlyphs">146.356</text>
<rect x="1684" y="40" width="41" height="10" fill="#f00" shape-rendering="crispEdges"/>
<text x="1688.6" y="48" font-size="9.8" fill="#fff" stroke="#fff" stroke-width="0.25" text-rendering="geometricPrecision" textLength="32.6" lengthAdjust="spacingAndGlyphs">145.944</text>
<rect x="1684" y="63" width="41" height="10" fill="#000" shape-rendering="crispEdges"/>
<text x="1688.6" y="71" font-size="9.8" fill="#fff" stroke="#fff" stroke-width="0.25" text-rendering="geometricPrecision" textLength="32.6" lengthAdjust="spacingAndGlyphs">145.355</text>
<rect x="1684" y="74" width="41" height="10" fill="#32cd32" shape-rendering="crispEdges"/>
<text x="1688.6" y="82" font-size="9.8" fill="#fff" stroke="#fff" stroke-width="0.25" text-rendering="geometricPrecision" textLength="32.6" lengthAdjust="spacingAndGlyphs">145.073</text>
<rect x="1684" y="94" width="41" height="10" fill="#00f" shape-rendering="crispEdges"/>
<text x="1688.6" y="102" font-size="9.8" fill="#fff" stroke="#fff" stroke-width="0.25" text-rendering="geometricPrecision" textLength="32.6" lengthAdjust="spacingAndGlyphs">144.564</text>
<rect x="1684" y="114" width="41" height="10" fill="#00f" shape-rendering="crispEdges"/>
<text x="1688.6" y="122" font-size="9.8" fill="#fff" stroke="#fff" stroke-width="0.25" text-rendering="geometricPrecision" textLength="32.6" lengthAdjust="spacingAndGlyphs">144.040</text>
<g shape-rendering="crispEdges">
<rect x="1677.5" y="27.5" width="4" height="4" fill="#fff" stroke="#f00"/>
<rect x="1677.5" y="43.5" width="4" height="4" fill="#fff" stroke="#f00"/>
<rect x="1677.5" y="97.5" width="4" height="4" fill="#fff" stroke="#00f"/>
<rect x="1683" y="579" width="2" height="1" fill="#000"/>
<rect x="1683" y="655" width="2" height="1" fill="#000"/>
<rect x="1683" y="746" width="2" height="1" fill="#000"/>
<rect x="1683" y="751" width="2" height="1" fill="#000"/>
<rect x="1683" y="785" width="2" height="1" fill="#000"/>
<rect x="1683" y="836" width="2" height="1" fill="#000"/>
<rect x="1683" y="897" width="2" height="1" fill="#000"/>
<rect x="1683" y="916" width="2" height="1" fill="#000"/>
<rect x="1682" y="576" width="1" height="1" fill="#fff"/><rect x="1682" y="748" width="1" height="1" fill="#fff"/>
</g>
<text x="1686.6" y="588" font-size="9.8" fill="#000" stroke="#000" stroke-width="0.25" text-rendering="geometricPrecision" textLength="27.6" lengthAdjust="spacingAndGlyphs">1.2152</text>
<text x="1686.6" y="659" font-size="9.8" fill="#000" stroke="#000" stroke-width="0.25" text-rendering="geometricPrecision" textLength="17.6" lengthAdjust="spacingAndGlyphs">0.00</text>
<text x="1686.6" y="744" font-size="9.8" fill="#000" stroke="#000" stroke-width="0.25" text-rendering="geometricPrecision" textLength="30.6" lengthAdjust="spacingAndGlyphs">-1.4437</text>
<text x="1686.6" y="760" font-size="9.8" fill="#000" stroke="#000" stroke-width="0.25" text-rendering="geometricPrecision" textLength="14.6" lengthAdjust="spacingAndGlyphs">100</text>
<text x="1686.6" y="789" font-size="9.8" fill="#000" stroke="#000" stroke-width="0.25" text-rendering="geometricPrecision" textLength="9.6" lengthAdjust="spacingAndGlyphs">80</text>
<text x="1686.6" y="840" font-size="9.8" fill="#000" stroke="#000" stroke-width="0.25" text-rendering="geometricPrecision" textLength="9.6" lengthAdjust="spacingAndGlyphs">50</text>
<text x="1686.6" y="901" font-size="9.8" fill="#000" stroke="#000" stroke-width="0.25" text-rendering="geometricPrecision" textLength="9.6" lengthAdjust="spacingAndGlyphs">15</text>
<text x="1686.6" y="920" font-size="9.8" fill="#000" stroke="#000" stroke-width="0.25" text-rendering="geometricPrecision" textLength="4.6" lengthAdjust="spacingAndGlyphs">0</text>
<text x="-2.4" y="590" font-size="9.8" fill="#000" stroke="#000" stroke-width="0.25" text-rendering="geometricPrecision" textLength="127" lengthAdjust="spacingAndGlyphs">MACD(12,26,9) 0.9949 0.9394</text>
<text x="-2.6" y="762" font-size="9.8" fill="#000" stroke="#000" stroke-width="0.25" text-rendering="geometricPrecision" textLength="65.6" lengthAdjust="spacingAndGlyphs">RSI(14) 76.6534</text>
<text x="7.6" y="34" font-size="9.8" fill="#000" stroke="#000" stroke-width="0.25" text-rendering="geometricPrecision" textLength="208.6" lengthAdjust="spacingAndGlyphs">GBPJPY-,Daily  144.651 145.460 144.481 145.355</text>
<polygon points="0,30.4 3,33.6 0,33.6" fill="#000"/>
<g shape-rendering="crispEdges">
<rect x="56" y="924" width="1" height="3" fill="#000"/>
<rect x="120" y="924" width="1" height="3" fill="#000"/>
<rect x="184" y="924" width="1" height="3" fill="#000"/>
<rect x="248" y="924" width="1" height="3" fill="#000"/>
<rect x="312" y="924" width="1" height="3" fill="#000"/>
<rect x="376" y="924" width="1" height="3" fill="#000"/>
<rect x="440" y="924" width="1" height="3" fill="#000"/>
<rect x="504" y="924" width="1" height="3" fill="#000"/>
<rect x="568" y="924" width="1" height="3" fill="#000"/>
<rect x="632" y="924" width="1" height="3" fill="#000"/>
<rect x="696" y="924" width="1" height="3" fill="#000"/>
<rect x="760" y="924" width="1" height="3" fill="#000"/>
<rect x="824" y="924" width="1" height="3" fill="#000"/>
<rect x="888" y="924" width="1" height="3" fill="#000"/>
<rect x="952" y="924" width="1" height="3" fill="#000"/>
<rect x="1016" y="924" width="1" height="3" fill="#000"/>
<rect x="1080" y="924" width="1" height="3" fill="#000"/>
<rect x="1144" y="924" width="1" height="3" fill="#000"/>
<rect x="1208" y="924" width="1" height="3" fill="#000"/>
<rect x="1272" y="924" width="1" height="3" fill="#000"/>
<rect x="1336" y="924" width="1" height="3" fill="#000"/>
<rect x="1400" y="924" width="1" height="3" fill="#000"/>
</g>
<text x="-8.6" y="936" font-size="9.8" fill="#000" stroke="#000" stroke-width="0.25" text-rendering="geometricPrecision" textLength="46.6" lengthAdjust="spacingAndGlyphs">14 Jul 2020</text>
<text x="55.4" y="936" font-size="9.8" fill="#000" stroke="#000" stroke-width="0.25" text-rendering="geometricPrecision" textLength="46.6" lengthAdjust="spacingAndGlyphs">23 Jul 2020</text>
<text x="119.4" y="936" font-size="9.8" fill="#000" stroke="#000" stroke-width="0.25" text-rendering="geometricPrecision" textLength="46.6" lengthAdjust="spacingAndGlyphs">2 Aug 2020</text>
<text x="183.4" y="936" font-size="9.8" fill="#000" stroke="#000" stroke-width="0.25" text-rendering="geometricPrecision" textLength="51.6" lengthAdjust="spacingAndGlyphs">11 Aug 2020</text>
<text x="247.4" y="936" font-size="9.8" fill="#000" stroke="#000" stroke-width="0.25" text-rendering="geometricPrecision" textLength="51.6" lengthAdjust="spacingAndGlyphs">20 Aug 2020</text>
<text x="311.4" y="936" font-size="9.8" fill="#000" stroke="#000" stroke-width="0.25" text-rendering="geometricPrecision" textLength="51.6" lengthAdjust="spacingAndGlyphs">30 Aug 2020</text>
<text x="375.4" y="936" font-size="9.8" fill="#000" stroke="#000" stroke-width="0.25" text-rendering="geometricPrecision" textLength="45.6" lengthAdjust="spacingAndGlyphs">8 Sep 2020</text>
<text x="439.4" y="936" font-size="9.8" fill="#000" stroke="#000" stroke-width="0.25" text-rendering="geometricPrecision" textLength="50.6" lengthAdjust="spacingAndGlyphs">17 Sep 2020</text>
<text x="503.4" y="936" font-size="9.8" fill="#000" stroke="#000" stroke-width="0.25" text-rendering="geometricPrecision" textLength="50.6" lengthAdjust="spacingAndGlyphs">27 Sep 2020</text>
<text x="567.4" y="936" font-size="9.8" fill="#000" stroke="#000" stroke-width="0.25" text-rendering="geometricPrecision" textLength="45.6" lengthAdjust="spacingAndGlyphs">6 Oct 2020</text>
<text x="631.4" y="936" font-size="9.8" fill="#000" stroke="#000" stroke-width="0.25" text-rendering="geometricPrecision" textLength="50.6" lengthAdjust="spacingAndGlyphs">15 Oct 2020</text>
<text x="695.4" y="936" font-size="9.8" fill="#000" stroke="#000" stroke-width="0.25" text-rendering="geometricPrecision" textLength="50.6" lengthAdjust="spacingAndGlyphs">25 Oct 2020</text>
<text x="759.4" y="936" font-size="9.8" fill="#000" stroke="#000" stroke-width="0.25" text-rendering="geometricPrecision" textLength="47.6" lengthAdjust="spacingAndGlyphs">3 Nov 2020</text>
<text x="823.4" y="936" font-size="9.8" fill="#000" stroke="#000" stroke-width="0.25" text-rendering="geometricPrecision" textLength="52.6" lengthAdjust="spacingAndGlyphs">12 Nov 2020</text>
<text x="887.4" y="936" font-size="9.8" fill="#000" stroke="#000" stroke-width="0.25" text-rendering="geometricPrecision" textLength="52.6" lengthAdjust="spacingAndGlyphs">22 Nov 2020</text>
<text x="951.4" y="936" font-size="9.8" fill="#000" stroke="#000" stroke-width="0.25" text-rendering="geometricPrecision" textLength="47.6" lengthAdjust="spacingAndGlyphs">1 Dec 2020</text>
<text x="1015.4" y="936" font-size="9.8" fill="#000" stroke="#000" stroke-width="0.25" text-rendering="geometricPrecision" textLength="52.6" lengthAdjust="spacingAndGlyphs">10 Dec 2020</text>
<text x="1079.4" y="936" font-size="9.8" fill="#000" stroke="#000" stroke-width="0.25" text-rendering="geometricPrecision" textLength="52.6" lengthAdjust="spacingAndGlyphs">20 Dec 2020</text>
<text x="1143.4" y="936" font-size="9.8" fill="#000" stroke="#000" stroke-width="0.25" text-rendering="geometricPrecision" textLength="52.6" lengthAdjust="spacingAndGlyphs">30 Dec 2020</text>
<text x="1207.4" y="936" font-size="9.8" fill="#000" stroke="#000" stroke-width="0.25" text-rendering="geometricPrecision" textLength="49.6" lengthAdjust="spacingAndGlyphs">10 Jan 2021</text>
<text x="1271.4" y="936" font-size="9.8" fill="#000" stroke="#000" stroke-width="0.25" text-rendering="geometricPrecision" textLength="49.6" lengthAdjust="spacingAndGlyphs">19 Jan 2021</text>
<text x="1335.4" y="936" font-size="9.8" fill="#000" stroke="#000" stroke-width="0.25" text-rendering="geometricPrecision" textLength="49.6" lengthAdjust="spacingAndGlyphs">28 Jan 2021</text>
<text x="1399.4" y="936" font-size="9.8" fill="#000" stroke="#000" stroke-width="0.25" text-rendering="geometricPrecision" textLength="45.6" lengthAdjust="spacingAndGlyphs">7 Feb 2021</text>
<polygon points="1440,23 1450,23 1445,27.5" fill="#c0c0c0"/>
</svg>
<svg width="1729" height="22" viewBox="0 0 1729 22" style="position:absolute;left:0;top:0">
<rect x="0" y="0" width="1729" height="17" fill="#f0f0f0"/>
<rect x="0" y="17" width="1729" height="1" fill="#f8f8f8"/>
<rect x="0" y="18" width="1729" height="1" fill="#a6a6a6"/>
<rect x="0" y="19" width="1729" height="1" fill="#7c7c7c"/>
<rect x="0" y="20" width="1729" height="2" fill="#fff"/>
<rect x="318" y="0" width="24" height="16" fill="#f8f8f8"/>
<rect x="470" y="0" width="24" height="16" fill="#f8f8f8"/>
<rect x="498" y="0" width="24" height="16" fill="#f8f8f8"/>
<rect x="658" y="0" width="25" height="16" fill="#f8f8f8"/>
<rect x="1132" y="0" width="25" height="16" fill="#f8f8f8"/>
<g shape-rendering="crispEdges">
<rect x="43" y="0" width="1" height="16" fill="#a0a0a0"/>
<rect x="279" y="0" width="1" height="16" fill="#a0a0a0"/>
<rect x="317" y="0" width="1" height="16" fill="#a0a0a0"/>
<rect x="374" y="0" width="1" height="16" fill="#a0a0a0"/>
<rect x="464" y="0" width="1" height="16" fill="#a0a0a0"/>
<rect x="469" y="0" width="1" height="16" fill="#a0a0a0"/>
<rect x="497" y="0" width="1" height="16" fill="#a0a0a0"/>
<rect x="526" y="0" width="1" height="16" fill="#a0a0a0"/>
<rect x="647" y="0" width="1" height="16" fill="#a0a0a0"/>
<rect x="657" y="0" width="1" height="16" fill="#a0a0a0"/>
<rect x="714" y="0" width="1" height="16" fill="#a0a0a0"/>
<rect x="953" y="0" width="1" height="16" fill="#a0a0a0"/>
<rect x="1131" y="0" width="1" height="16" fill="#a0a0a0"/>
<rect x="1214" y="0" width="1" height="16" fill="#a0a0a0"/>
<rect x="283" y="0" width="3" height="1" fill="#a8a8a8"/>
<rect x="283" y="2" width="3" height="1" fill="#a8a8a8"/>
<rect x="283" y="4" width="3" height="1" fill="#a8a8a8"/>
<rect x="283" y="6" width="3" height="1" fill="#a8a8a8"/>
<rect x="283" y="8" width="3" height="1" fill="#a8a8a8"/>
<rect x="283" y="10" width="3" height="1" fill="#a8a8a8"/>
<rect x="283" y="12" width="3" height="1" fill="#a8a8a8"/>
<rect x="283" y="14" width="3" height="1" fill="#a8a8a8"/>
<rect x="651" y="0" width="3" height="1" fill="#a8a8a8"/>
<rect x="651" y="2" width="3" height="1" fill="#a8a8a8"/>
<rect x="651" y="4" width="3" height="1" fill="#a8a8a8"/>
<rect x="651" y="6" width="3" height="1" fill="#a8a8a8"/>
<rect x="651" y="8" width="3" height="1" fill="#a8a8a8"/>
<rect x="651" y="10" width="3" height="1" fill="#a8a8a8"/>
<rect x="651" y="12" width="3" height="1" fill="#a8a8a8"/>
<rect x="651" y="14" width="3" height="1" fill="#a8a8a8"/>
<rect x="957" y="0" width="3" height="1" fill="#a8a8a8"/>
<rect x="957" y="2" width="3" height="1" fill="#a8a8a8"/>
<rect x="957" y="4" width="3" height="1" fill="#a8a8a8"/>
<rect x="957" y="6" width="3" height="1" fill="#a8a8a8"/>
<rect x="957" y="8" width="3" height="1" fill="#a8a8a8"/>
<rect x="957" y="10" width="3" height="1" fill="#a8a8a8"/>
<rect x="957" y="12" width="3" height="1" fill="#a8a8a8"/>
<rect x="957" y="14" width="3" height="1" fill="#a8a8a8"/>
</g>
<rect x="-6" y="-6" width="11" height="18.5" fill="#fff" stroke="#3a7abf" stroke-width="1.2"/>
<rect x="0" y="1" width="4" height="1" fill="#9cc4ee"/>
<rect x="0" y="3" width="4" height="1" fill="#9cc4ee"/>
<rect x="0" y="5" width="4" height="1" fill="#9cc4ee"/>
<rect x="0" y="7" width="4" height="1" fill="#9cc4ee"/>
<rect x="18.5" y="-6" width="12" height="17" fill="#fbfaf6" stroke="#b8b0a0" stroke-width="1"/>
<line x1="30.5" y1="9.5" x2="35" y2="14.5" stroke="#c89a18" stroke-width="2.6" stroke-linecap="round"/>
<circle cx="26.5" cy="5" r="5.6" fill="#d9ebf7" stroke="#7aa6dc" stroke-width="1.2"/>
<rect x="25" y="-1" width="3" height="5" fill="#9fb6c8"/>
<path d="M53.5,-6 H61.5 L64.5,-3 V10.5 H53.5 Z" fill="#fdfdfd" stroke="#8a8a8a" stroke-width="1"/>
<rect x="55.5" y="1.5" width="6" height="1" fill="#909090"/>
<rect x="55.5" y="3.5" width="6" height="1" fill="#909090"/>
<rect x="55.5" y="5.5" width="6" height="1" fill="#909090"/>
<path d="M60.5,4.5 h4 v3.5 h3.8 v4 h-3.8 v3.6 h-4 v-3.6 h-3.8 v-4 h3.8 z" fill="#22d022" stroke="#0a7a0a" stroke-width="0.9"/>
<text x="72" y="9" font-size="12.2" font-weight="500" fill="#000">新订单</text>
<defs><linearGradient id="gg" x1="0.7" y1="0" x2="0.2" y2="1"><stop offset="0" stop-color="#fbe04a"/><stop offset="0.5" stop-color="#e9b624"/><stop offset="1" stop-color="#c08a0e"/></linearGradient><linearGradient id="gc" x1="0" y1="0" x2="0" y2="1"><stop offset="0" stop-color="#f4f7fc"/><stop offset="1" stop-color="#c4d0e6"/></linearGradient><radialGradient id="gr" cx="0.15" cy="0.4" r="0.9"><stop offset="0" stop-color="#2f9a2f" stop-opacity="0.75"/><stop offset="1" stop-color="#8fd08f" stop-opacity="0.25"/></radialGradient></defs>
<polygon points="128.7,15 136.5,8 136.2,5.8 128.4,12.6" fill="#8e5e12"/>
<polygon points="120.1,9 128.7,15 128.6,12.8 120.4,7.2" fill="#a06c0a"/>
<polygon points="126.3,-1 136.2,5.8 128.4,12.8 120.4,7.3" fill="url(#gg)" stroke="#b8860f" stroke-width="0.6"/>
<line x1="129" y1="13.6" x2="136.2" y2="7.1" stroke="#f2e2b0" stroke-width="0.6"/>
<rect x="150.4" y="-5" width="10.4" height="12" fill="#2f8ff0" stroke="#1f6fd0" stroke-width="0.8"/>
<rect x="154.6" y="1" width="5.6" height="5" fill="#9fd0ff"/><rect x="155.6" y="2.4" width="3.6" height="0.9" fill="#fff"/>
<path d="M151,13.2 a2.8,2.8 0 0 1 0.3,-5.3 a3.7,3.7 0 0 1 6.9,-0.6 a3.2,3.2 0 0 1 3.6,5.9 z" fill="url(#gc)" stroke="#4f6fae" stroke-width="1"/>
<path d="M184.2,2.9999999999999996 a2.6,2.6 0 0 0 0,5.2" fill="none" stroke="#4677d8" stroke-width="1.1" opacity="0.95"/>
<path d="M184.2,2.9999999999999996 a2.6,2.6 0 0 1 2.444,1.7160000000000002" fill="none" stroke="#6f93d8" stroke-width="1" opacity="0.6649999999999999"/>
<path d="M184.2,0.5999999999999996 a5,5 0 0 0 0,10" fill="none" stroke="#4677d8" stroke-width="1.1" opacity="0.7"/>
<path d="M184.2,0.5999999999999996 a5,5 0 0 1 4.699999999999999,3.3000000000000003" fill="none" stroke="#6f93d8" stroke-width="1" opacity="0.48999999999999994"/>
<path d="M184.2,-1.8000000000000007 a7.4,7.4 0 0 0 0,14.8" fill="none" stroke="#4677d8" stroke-width="1.1" opacity="0.45"/>
<path d="M184.2,-1.8000000000000007 a7.4,7.4 0 0 1 6.9559999999999995,4.884" fill="none" stroke="#6f93d8" stroke-width="1" opacity="0.315"/>
<path d="M184.2,5.6 L190.8,1.6 A7.7,7.7 0 0 1 184.2,13.4 Z" fill="url(#gr)"/>
<circle cx="184.2" cy="5.4" r="1.9" fill="#2a5fd0"/>
<rect x="183.6" y="6.2" width="1.5" height="7.4" fill="#1fae1f"/>
<ellipse cx="210.5" cy="1.5" rx="7" ry="3.2" fill="#4a9cdc" stroke="#2f7ac0" stroke-width="0.8"/>
<path d="M203.5,3.5 Q205,9.5 212,13 Q216.5,9 217.5,3.5 Q210,7 203.5,3.5 z" fill="#f2c936" stroke="#c89a18" stroke-width="0.8"/>
<circle cx="215.6" cy="9.6" r="3.9" fill="#e02a1a" stroke="#b81808" stroke-width="0.6"/>
<rect x="214" y="8" width="3.2" height="3.2" fill="#fff"/>
<text x="224" y="9" font-size="12.2" font-weight="500" fill="#000">自动交易</text>
<g shape-rendering="crispEdges"><rect x="297" y="0" width="1" height="14" fill="#404040"/><rect x="295" y="11" width="14" height="1" fill="#404040"/></g>
<polygon points="309,9.7 311,11.5 309,13.3" fill="#404040"/>
<path d="M304.5,1.5 V9.5 M304.5,2.5 H307 M302,8.5 H304.5" stroke="#18a018" stroke-width="1.4" fill="none"/>
<g shape-rendering="crispEdges"><rect x="325" y="0" width="1" height="14" fill="#404040"/><rect x="323" y="11" width="14" height="1" fill="#404040"/></g>
<polygon points="337,9.7 339,11.5 337,13.3" fill="#404040"/>
<rect x="329.5" y="-3" width="4.4" height="10" fill="#3ada3a" stroke="#0f8a0f" stroke-width="0.9"/><rect x="331.2" y="7" width="1.2" height="2.6" fill="#0f8a0f"/>
<g shape-rendering="crispEdges"><rect x="353" y="0" width="1" height="14" fill="#404040"/><rect x="351" y="11" width="14" height="1" fill="#404040"/></g>
<polygon points="365,9.7 367,11.5 365,13.3" fill="#404040"/>
<path d="M352,9 Q357,0.5 360,3.5 T364.5,7" stroke="#18a018" stroke-width="1.2" fill="none"/>
<line x1="393" y1="8" x2="398.3" y2="13.2" stroke="#c8a020" stroke-width="2.6" stroke-linecap="round"/>
<circle cx="389" cy="3.8" r="5.6" fill="#d6e8fa" stroke="#5f94dc" stroke-width="1.3"/>
<rect x="386" y="3" width="6" height="1.7" fill="#3f78d0"/>
<rect x="388.15" y="0.8" width="1.7" height="6" fill="#3f78d0"/>
<line x1="421.2" y1="8" x2="426.5" y2="13.2" stroke="#c8a020" stroke-width="2.6" stroke-linecap="round"/>
<circle cx="417.2" cy="3.8" r="5.6" fill="#d6e8fa" stroke="#5f94dc" stroke-width="1.3"/>
<rect x="414.2" y="3" width="6" height="1.7" fill="#3f78d0"/>
<rect x="439.5" y="-1" width="7.2" height="6.6" fill="#62b430"/>
<rect x="441.0" y="1" width="4.2" height="1" fill="#fff" opacity="0.9"/>
<rect x="447.6" y="-1" width="7.2" height="6.6" fill="#3f80e4"/>
<rect x="449.1" y="1" width="4.2" height="1" fill="#fff" opacity="0.9"/>
<rect x="439.5" y="6.6" width="7.2" height="6.6" fill="#3f80e4"/>
<rect x="441.0" y="8.6" width="4.2" height="1" fill="#fff" opacity="0.9"/>
<rect x="447.6" y="6.6" width="7.2" height="6.6" fill="#62b430"/>
<rect x="449.1" y="8.6" width="4.2" height="1" fill="#fff" opacity="0.9"/>
<g shape-rendering="crispEdges"><rect x="477" y="0" width="1" height="14" fill="#404040"/><rect x="475" y="11" width="14" height="1" fill="#404040"/></g>
<polygon points="489,9.7 491,11.5 489,13.3" fill="#404040"/>
<polygon points="482.3,2.8 482.3,8.8 486,5.8" fill="#8fe08f" stroke="#18a018" stroke-width="0.9"/>
<g shape-rendering="crispEdges"><rect x="505" y="0" width="1" height="14" fill="#404040"/><rect x="503" y="11" width="14" height="1" fill="#404040"/></g>
<polygon points="517,9.7 519,11.5 517,13.3" fill="#404040"/>
<rect x="511" y="0" width="1" height="9.6" fill="#2a6ac8" shape-rendering="crispEdges"/>
<polygon points="512.4,5.6 515,3.4 515,7.8" fill="#e04010"/><rect x="514.5" y="5.1" width="2.6" height="1" fill="#e04010"/>
<path d="M537.5,-6 H545 L548,-3 V10.5 H537.5 Z" fill="#fdfdfd" stroke="#8a8a8a" stroke-width="1"/>
<path d="M540,0.5 h2 M540,3 h3 M540,5.5 h2" stroke="#808080" stroke-width="1"/>
<path d="M543.7,4.3 h4.2 v3.7 h4 v4.2 h-4 v3.8 h-4.2 v-3.8 h-4 v-4.2 h4 z" fill="#22d022" stroke="#0a7a0a" stroke-width="0.9"/>
<polygon points="557.6999999999999,4.7 562.9,4.7 560.3,7.6" fill="#000"/>
<circle cx="581.6" cy="5.3" r="7.2" fill="#f4f8fc" stroke="#2f6fd8" stroke-width="2.2"/>
<path d="M581.6,1.2 V6 H585" stroke="#606870" stroke-width="1.2" fill="none"/>
<polygon points="597.0,4.7 602.2,4.7 599.6,7.6" fill="#000"/>
<rect x="613.5" y="-3" width="15" height="14.8" fill="#fff" stroke="#3a78d0" stroke-width="1.2"/>
<rect x="613.5" y="-3" width="15" height="3.6" fill="#5a98e8"/>
<path d="M615,5 l3,-1 l3,0.5 l3,-1.5 l3,0.5" stroke="#c03010" stroke-width="1.1" fill="none"/>
<rect x="614" y="6.6" width="14" height="0.8" fill="#7aa8e0"/>
<path d="M615,10 l3,-1 l2.5,1 l3,-1.5 l3,0.8" stroke="#18a018" stroke-width="1.1" fill="none"/>
<polygon points="635.6,4.7 640.8000000000001,4.7 638.2,7.6" fill="#000"/>
<polygon points="665.3,-2 665.3,10.4 668.2,8 670.9,13.1 672.7,12.2 670,7.2 673.5,6.8" fill="#454545"/>
<g shape-rendering="crispEdges"><rect x="690" y="6" width="15" height="1" fill="#505050"/><rect x="697" y="0" width="1" height="14" fill="#505050"/></g>
<g shape-rendering="crispEdges"><rect x="731" y="0" width="1" height="13" fill="#505050"/><rect x="754" y="6" width="12" height="1" fill="#505050"/></g>
<line x1="782" y1="13" x2="794" y2="1.2" stroke="#505050" stroke-width="1.1"/>
<path d="M808.5,9.5 L818.5,-0.5 M810.5,12.5 L821,2 M812,5 l3,3.6 M815,2 l3,3.6 M809.5,8 l2.6,3.2" stroke="#505050" stroke-width="1.1" fill="none"/>
<text x="818.6" y="14.6" font-size="6.5" font-weight="bold" fill="#404040">E</text>
<line x1="837" y1="2.5" x2="850" y2="2.5" stroke="#606060" stroke-width="1" stroke-dasharray="1 1" shape-rendering="crispEdges"/>
<line x1="837" y1="6.5" x2="850" y2="6.5" stroke="#606060" stroke-width="1" stroke-dasharray="1 1" shape-rendering="crispEdges"/>
<line x1="837" y1="10.5" x2="850" y2="10.5" stroke="#606060" stroke-width="1" stroke-dasharray="1 1" shape-rendering="crispEdges"/>
<rect x="846" y="9" width="6" height="6" fill="#f0f0f0"/>
<text x="846.8" y="14.6" font-size="6.5" font-weight="bold" fill="#404040">F</text>
<text x="867.6" y="10.6" font-size="11" fill="#505050">A</text>
<rect x="894.5" y="-3" width="11" height="15.5" fill="none" stroke="#606060" stroke-width="1" stroke-dasharray="1 1" shape-rendering="crispEdges"/>
<text x="896.2" y="10.6" font-size="11" fill="#505050">T</text>
<polygon points="924.5,0 927.5,3.2 921.5,3.2" fill="#404040"/><polygon points="924.5,5 927.5,3.2 921.5,3.2" fill="#404040"/>
<path d="M923.5,7 l2.2,2.6 l4,-4.6" stroke="#404040" stroke-width="1.4" fill="none"/>
<polygon points="932,7.6 935.2,10.4 932,13 928.8,10.4" fill="#404040"/>
<polygon points="941.9,4.7 947.1,4.7 944.5,7.6" fill="#000"/>
<text x="968.2" y="10" font-size="9.4" fill="#404040">M1</text>
<text x="996.6" y="10" font-size="9.4" fill="#404040">M5</text>
<text x="1022.4" y="10" font-size="9.4" fill="#404040">M15</text>
<text x="1050.3" y="10" font-size="9.4" fill="#404040">M30</text>
<text x="1081.2" y="10" font-size="9.4" fill="#404040">H1</text>
<text x="1108.5" y="10" font-size="9.4" fill="#404040">H4</text>
<text x="1137.5" y="10" font-size="9.4" fill="#404040">D1</text>
<text x="1165" y="10" font-size="9.4" fill="#404040">W1</text>
<text x="1191.6" y="10" font-size="9.4" fill="#404040">MN</text>
<line x1="1682" y1="6.2" x2="1677" y2="11" stroke="#2a55c8" stroke-width="2.4" stroke-linecap="round"/>
<circle cx="1684.6" cy="3" r="3.8" fill="#f4f4f8" stroke="#2a5fd0" stroke-width="1.4"/>
<path d="M1701.5,8.5 a5.5,4.2 0 1 1 5.5,4.3 l-2.6,2 l0.3,-2.3 a5.5,4.2 0 0 1 -3.2,-4 z" fill="#e4e6ea" stroke="#a8acb4" stroke-width="0.8"/>
<circle cx="1715.5" cy="3.6" r="8" fill="#dc3a1c"/>
<text x="1711.6" y="8" font-size="11.5" font-weight="bold" fill="#fff" font-family="'Liberation Serif',serif">1</text>
<rect x="1727" y="0" width="2" height="22" fill="#f4f4f4"/>
</svg>
<svg width="216" height="64" viewBox="0 42 216 64" style="position:absolute;left:0;top:42px">
<defs><linearGradient id="gb" x1="0" y1="0" x2="0" y2="1"><stop offset="0" stop-color="#5858fa"/><stop offset="1" stop-color="#3636de"/></linearGradient><linearGradient id="gp" x1="0" y1="0" x2="0" y2="1"><stop offset="0" stop-color="#3838e6"/><stop offset="0.55" stop-color="#1c1cc8"/><stop offset="1" stop-color="#0404a8"/></linearGradient><linearGradient id="gs" x1="0" y1="0" x2="0" y2="1"><stop offset="0" stop-color="#f6f6f6"/><stop offset="0.5" stop-color="#e4e4e4"/><stop offset="0.5" stop-color="#d4d4d4"/><stop offset="1" stop-color="#dcdcdc"/></linearGradient></defs>
<rect x="0" y="42" width="216" height="64" fill="#fff"/>
<g shape-rendering="crispEdges">
<rect x="0" y="42" width="47" height="24" fill="#1a1ab6"/><rect x="0" y="43" width="46" height="23" fill="url(#gb)"/>
<rect x="162" y="42" width="52" height="24" fill="#1a1ab6"/><rect x="163" y="43" width="50" height="23" fill="url(#gb)"/>
<rect x="0" y="66" width="104" height="40" fill="url(#gp)"/>
<rect x="106" y="66" width="108" height="40" fill="url(#gp)"/>
<rect x="0" y="65" width="43" height="1" fill="#1818b2"/>
<rect x="166" y="65" width="44" height="1" fill="#8484ee"/><rect x="166" y="66" width="44" height="1" fill="#1818b2"/>
<rect x="49.5" y="42.5" width="110" height="21" fill="#fff" stroke="#acacac"/>
<rect x="51.5" y="44.5" width="18" height="17" fill="url(#gs)" stroke="#c8c8c8"/>
<rect x="139.5" y="44.5" width="18" height="17" fill="url(#gs)" stroke="#c8c8c8"/>
<rect x="70" y="43" width="1" height="20" fill="#b4b4b4"/><rect x="138" y="43" width="1" height="20" fill="#b4b4b4"/>
</g>
<polygon points="57.6,51.4 62.8,51.4 60.2,54.4" fill="#4468c4"/>
<polygon points="145.8,54 151,54 148.4,51" fill="#4468c4"/>
<text x="111.4" y="57" font-size="12" fill="#111" text-rendering="geometricPrecision">1.00</text>
<text x="7.4" y="58" font-size="12" fill="#fff" textLength="25.4" lengthAdjust="spacingAndGlyphs" text-rendering="geometricPrecision">SELL</text>
<text x="175.6" y="58" font-size="12" fill="#fff" textLength="23.6" lengthAdjust="spacingAndGlyphs" text-rendering="geometricPrecision">BUY</text>
<text x="18.4" y="97" font-size="12" font-weight="bold" fill="#fff" text-rendering="geometricPrecision">145</text>
<text x="128.6" y="97" font-size="12" font-weight="bold" fill="#fff" text-rendering="geometricPrecision">145</text>
<text x="42.6" y="96.8" font-size="33.4" fill="#fff" textLength="33.6" lengthAdjust="spacingAndGlyphs" text-rendering="geometricPrecision">35</text>
<text x="153.6" y="96.8" font-size="33.4" fill="#fff" textLength="33.6" lengthAdjust="spacingAndGlyphs" text-rendering="geometricPrecision">39</text>
<text x="82.2" y="81" font-size="12" font-weight="bold" fill="#fff" text-rendering="geometricPrecision">5</text>
<text x="193" y="81" font-size="12" font-weight="bold" fill="#fff" text-rendering="geometricPrecision">8</text>
</svg>
</body></html>
